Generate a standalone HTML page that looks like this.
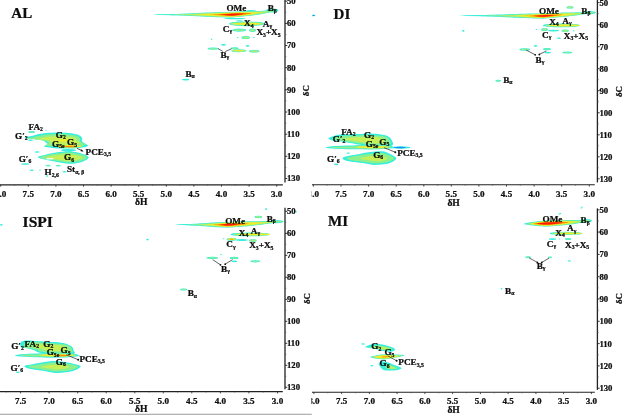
<!DOCTYPE html><html><head><meta charset="utf-8"><title>HSQC</title>
<style>html,body{margin:0;padding:0;background:#fff;}svg{display:block;}text{font-family:"Liberation Serif",serif;font-weight:bold;fill:#0a0a0a;stroke:#0a0a0a;stroke-width:0.22px;}</style></head><body>
<svg width="624" height="415" viewBox="0 0 624 415">
<defs>
<filter id="bl" x="-20%" y="-50%" width="140%" height="200%"><feGaussianBlur stdDeviation="0.4"/></filter>
<filter id="tb" x="-5%" y="-20%" width="110%" height="140%"><feGaussianBlur stdDeviation="0.28"/></filter>
<radialGradient id="g1" cx="0.5" cy="0.5" r="0.5"><stop offset="0" stop-color="#36eedc"/><stop offset="1" stop-color="#36eedc"/></radialGradient>
<radialGradient id="g2" cx="0.5" cy="0.5" r="0.5"><stop offset="0" stop-color="#8cf08c"/><stop offset="0.45" stop-color="#8cf08c"/><stop offset="0.8" stop-color="#36eedc"/><stop offset="1" stop-color="#36eedc"/></radialGradient>
<radialGradient id="g3" cx="0.5" cy="0.5" r="0.5"><stop offset="0" stop-color="#c6f058"/><stop offset="0.35" stop-color="#c6f058"/><stop offset="0.6" stop-color="#8cf08c"/><stop offset="0.85" stop-color="#36eedc"/><stop offset="1" stop-color="#36eedc"/></radialGradient>
<radialGradient id="g4" cx="0.5" cy="0.5" r="0.5"><stop offset="0" stop-color="#f6ec24"/><stop offset="0.3" stop-color="#f6ec24"/><stop offset="0.5" stop-color="#c6f058"/><stop offset="0.7" stop-color="#8cf08c"/><stop offset="0.88" stop-color="#36eedc"/><stop offset="1" stop-color="#36eedc"/></radialGradient>
<radialGradient id="g5" cx="0.5" cy="0.5" r="0.5"><stop offset="0" stop-color="#ff8a00"/><stop offset="0.2" stop-color="#ff8a00"/><stop offset="0.4" stop-color="#f6ec24"/><stop offset="0.6" stop-color="#c6f058"/><stop offset="0.75" stop-color="#8cf08c"/><stop offset="0.9" stop-color="#36eedc"/><stop offset="1" stop-color="#36eedc"/></radialGradient>
<radialGradient id="g6" cx="0.5" cy="0.5" r="0.5"><stop offset="0" stop-color="#ff1e00"/><stop offset="0.28" stop-color="#ff1e00"/><stop offset="0.42" stop-color="#ff8a00"/><stop offset="0.55" stop-color="#f6ec24"/><stop offset="0.68" stop-color="#c6f058"/><stop offset="0.8" stop-color="#8cf08c"/><stop offset="0.92" stop-color="#36eedc"/><stop offset="1" stop-color="#36eedc"/></radialGradient>
<radialGradient id="g7" cx="0.5" cy="0.5" r="0.5"><stop offset="0" stop-color="#1e8cff"/><stop offset="0.45" stop-color="#1e8cff"/><stop offset="0.8" stop-color="#36eedc"/><stop offset="1" stop-color="#36eedc"/></radialGradient>
</defs>
<rect width="624" height="415" fill="#fff"/>
<g filter="url(#bl)"><path d="M154.0,14.60 L156.6,14.56 L159.2,14.50 L161.8,14.43 L164.4,14.35 L167.0,14.27 L169.6,14.18 L172.2,14.09 L174.8,13.99 L177.4,13.89 L180.0,13.78 L182.6,13.67 L185.2,13.56 L187.9,13.44 L190.5,13.33 L193.1,13.21 L195.7,13.09 L198.3,12.97 L200.9,12.85 L203.5,12.73 L206.1,12.61 L208.7,12.50 L211.3,12.39 L213.9,12.28 L216.5,12.19 L219.1,12.10 L221.7,12.02 L224.3,11.95 L226.9,11.88 L229.5,11.83 L232.1,11.78 L234.7,11.64 L237.3,11.51 L239.9,11.39 L242.5,11.28 L245.1,11.18 L247.8,11.10 L250.4,11.03 L253.0,10.98 L255.6,10.93 L258.2,10.90 L260.8,10.89 L263.4,10.71 L266.0,10.53 L268.6,10.36 L271.2,10.21 L273.8,10.08 L276.4,9.98 L279.0,10.30 L279.0,10.30 L276.4,10.79 L273.8,11.44 L271.2,12.06 L268.6,12.66 L266.0,13.24 L263.4,13.81 L260.8,14.35 L258.2,14.71 L255.6,15.05 L253.0,15.39 L250.4,15.71 L247.8,16.02 L245.1,16.31 L242.5,16.59 L239.9,16.86 L237.3,17.12 L234.7,17.37 L232.1,17.61 L229.5,17.57 L226.9,17.50 L224.3,17.43 L221.7,17.35 L219.1,17.27 L216.5,17.17 L213.9,17.07 L211.3,16.96 L208.7,16.84 L206.1,16.72 L203.5,16.60 L200.9,16.47 L198.3,16.35 L195.7,16.22 L193.1,16.09 L190.5,15.97 L187.9,15.84 L185.2,15.72 L182.6,15.60 L180.0,15.49 L177.4,15.37 L174.8,15.27 L172.2,15.16 L169.6,15.06 L167.0,14.96 L164.4,14.87 L161.8,14.79 L159.2,14.71 L156.6,14.65 L154.0,14.60Z" fill="#36eedc"/><ellipse cx="235.0" cy="18.6" rx="11.00" ry="0.70" fill="#36eedc"/><ellipse cx="272.2" cy="10.4" rx="6.25" ry="2.00" fill="#36eedc"/><ellipse cx="174.0" cy="14.6" rx="21.00" ry="0.55" fill="#36eedc"/><ellipse cx="251.0" cy="10.7" rx="5.00" ry="0.80" fill="#36eedc"/><ellipse cx="246.8" cy="23.8" rx="17.75" ry="2.40" fill="#36eedc"/><ellipse cx="239.5" cy="20.9" rx="3.50" ry="0.70" fill="#36eedc"/><ellipse cx="239.4" cy="30.2" rx="7.05" ry="1.60" fill="#36eedc"/><ellipse cx="252.5" cy="30.2" rx="3.50" ry="1.70" fill="#36eedc"/><ellipse cx="245.7" cy="37.6" rx="4.30" ry="1.50" fill="#36eedc"/><ellipse cx="237.6" cy="37.6" rx="0.80" ry="0.60" fill="#36eedc"/><ellipse cx="254.0" cy="37.6" rx="0.80" ry="0.60" fill="#36eedc"/><ellipse cx="211.6" cy="39.2" rx="0.80" ry="0.60" fill="#36eedc"/><ellipse cx="46.0" cy="130.3" rx="0.80" ry="0.50" fill="#36eedc"/><ellipse cx="223.5" cy="44.8" rx="2.50" ry="0.90" fill="#36eedc"/><ellipse cx="247.5" cy="45.8" rx="1.90" ry="0.90" fill="#36eedc"/><ellipse cx="213.0" cy="48.6" rx="5.50" ry="1.20" fill="#36eedc"/><ellipse cx="234.6" cy="48.3" rx="3.95" ry="1.10" fill="#36eedc"/><ellipse cx="238.8" cy="50.7" rx="7.75" ry="1.50" fill="#36eedc"/><ellipse cx="254.2" cy="51.3" rx="5.40" ry="1.20" fill="#36eedc"/><ellipse cx="185.7" cy="79.6" rx="3.70" ry="0.90" fill="#36eedc"/><ellipse cx="31.6" cy="132.1" rx="3.35" ry="1.00" fill="#36eedc"/><ellipse cx="30.5" cy="140.3" rx="2.50" ry="0.70" fill="#36eedc"/><path d="M24.5,137.6 C24.8,137.2 28.2,136.7 30.0,136.3 C31.8,135.9 33.6,135.4 35.4,135.0 C37.1,134.6 38.8,134.2 40.5,133.8 C42.2,133.5 42.6,133.1 45.6,132.9 C48.6,132.7 54.6,132.4 58.5,132.4 C62.4,132.4 65.7,132.6 68.7,132.9 C71.7,133.2 74.5,133.7 76.4,134.2 C78.3,134.7 79.3,135.2 80.3,135.9 C81.3,136.6 82.0,137.7 82.2,138.5 C82.5,139.3 81.5,140.3 81.8,141.0 C82.1,141.7 83.1,142.2 84.1,142.9 C85.1,143.6 88.0,144.7 88.0,145.4 C88.0,146.1 86.5,146.7 84.1,147.2 C81.7,147.7 78.1,148.2 73.8,148.4 C69.5,148.6 62.9,148.6 58.5,148.4 C54.1,148.2 50.0,147.7 47.5,147.3 C45.0,147.0 43.7,146.8 43.7,146.3 C43.7,145.8 47.3,144.9 47.6,144.2 C47.9,143.5 46.3,142.9 45.5,142.3 C44.7,141.7 44.6,141.1 43.0,140.6 C41.4,140.1 38.5,139.8 36.0,139.5 C33.5,139.2 29.9,139.0 28.0,138.7 C26.1,138.4 24.2,138.0 24.5,137.6Z" fill="#36eedc"/><ellipse cx="37.1" cy="152.0" rx="2.50" ry="0.80" fill="#36eedc"/><ellipse cx="68.5" cy="150.2" rx="7.50" ry="1.30" fill="#36eedc"/><path d="M38.0,156.8 C38.9,156.2 42.6,155.4 45.6,154.7 C48.6,154.0 52.0,153.2 55.9,152.6 C59.8,152.0 65.1,151.3 68.7,151.3 C72.3,151.3 74.9,152.0 77.7,152.6 C80.5,153.2 83.6,154.2 85.4,155.1 C87.2,155.9 88.8,156.7 88.6,157.7 C88.4,158.7 86.1,160.0 84.1,160.9 C82.1,161.8 79.0,162.7 76.4,163.2 C73.8,163.7 71.7,163.9 68.7,163.7 C65.7,163.5 61.9,162.8 58.5,162.2 C55.1,161.6 51.2,160.9 48.2,160.3 C45.2,159.7 42.2,159.2 40.5,158.6 C38.8,158.0 37.1,157.5 38.0,156.8Z" fill="#36eedc"/><ellipse cx="25.2" cy="164.0" rx="4.25" ry="0.80" fill="#36eedc"/><ellipse cx="48.1" cy="165.6" rx="2.50" ry="0.90" fill="#36eedc"/><ellipse cx="58.3" cy="165.6" rx="2.50" ry="0.90" fill="#36eedc"/><ellipse cx="31.8" cy="170.2" rx="2.00" ry="0.70" fill="#36eedc"/><ellipse cx="40.0" cy="170.0" rx="1.00" ry="0.50" fill="#36eedc"/><ellipse cx="64.5" cy="171.7" rx="2.00" ry="0.80" fill="#36eedc"/><ellipse cx="47.2" cy="176.0" rx="1.20" ry="0.80" fill="#36eedc"/><path d="M460.5,15.50 L463.3,15.48 L466.1,15.44 L469.0,15.39 L471.8,15.33 L474.6,15.26 L477.4,15.19 L480.3,15.12 L483.1,15.04 L485.9,14.96 L488.7,14.87 L491.6,14.79 L494.4,14.70 L497.2,14.60 L500.0,14.51 L502.8,14.41 L505.7,14.31 L508.5,14.21 L511.3,14.12 L514.1,14.02 L517.0,13.93 L519.8,13.84 L522.6,13.75 L525.4,13.67 L528.2,13.60 L531.1,13.54 L533.9,13.48 L536.7,13.43 L539.5,13.40 L542.4,13.36 L545.2,13.25 L548.0,13.12 L550.8,13.00 L553.7,12.89 L556.5,12.79 L559.3,12.70 L562.1,12.62 L564.9,12.56 L567.8,12.50 L570.6,12.46 L573.4,12.42 L576.2,12.37 L579.1,12.29 L581.9,12.22 L584.7,12.17 L587.5,12.12 L590.4,12.09 L593.2,12.10 L596.0,12.30 L596.0,12.30 L593.2,12.81 L590.4,13.30 L587.5,13.75 L584.7,14.18 L581.9,14.61 L579.1,15.02 L576.2,15.42 L573.4,15.78 L570.6,16.09 L567.8,16.40 L564.9,16.70 L562.1,16.98 L559.3,17.26 L556.5,17.52 L553.7,17.77 L550.8,18.02 L548.0,18.25 L545.2,18.47 L542.4,18.63 L539.5,18.56 L536.7,18.49 L533.9,18.41 L531.1,18.32 L528.2,18.22 L525.4,18.11 L522.6,18.00 L519.8,17.88 L517.0,17.76 L514.1,17.63 L511.3,17.50 L508.5,17.37 L505.7,17.24 L502.8,17.11 L500.0,16.98 L497.2,16.85 L494.4,16.72 L491.6,16.59 L488.7,16.47 L485.9,16.35 L483.1,16.24 L480.3,16.12 L477.4,16.02 L474.6,15.91 L471.8,15.81 L469.0,15.72 L466.1,15.64 L463.3,15.56 L460.5,15.50Z" fill="#36eedc"/><ellipse cx="590.0" cy="12.6" rx="6.00" ry="1.60" fill="#36eedc"/><ellipse cx="482.2" cy="15.6" rx="22.75" ry="0.55" fill="#36eedc"/><ellipse cx="570.0" cy="7.4" rx="3.50" ry="1.20" fill="#36eedc"/><ellipse cx="561.2" cy="25.4" rx="18.25" ry="1.90" fill="#36eedc"/><ellipse cx="544.5" cy="29.7" rx="3.50" ry="1.40" fill="#36eedc"/><ellipse cx="553.5" cy="30.6" rx="5.50" ry="0.90" fill="#36eedc"/><ellipse cx="565.2" cy="30.8" rx="3.75" ry="1.40" fill="#36eedc"/><ellipse cx="573.6" cy="30.8" rx="0.80" ry="0.60" fill="#36eedc"/><ellipse cx="536.4" cy="29.5" rx="0.80" ry="0.50" fill="#36eedc"/><ellipse cx="559.0" cy="38.2" rx="2.00" ry="0.80" fill="#36eedc"/><ellipse cx="463.3" cy="30.8" rx="1.30" ry="0.90" fill="#36eedc"/><ellipse cx="535.5" cy="45.9" rx="1.85" ry="0.80" fill="#36eedc"/><ellipse cx="524.7" cy="49.5" rx="5.30" ry="1.20" fill="#36eedc"/><ellipse cx="547.0" cy="49.1" rx="4.05" ry="1.20" fill="#36eedc"/><ellipse cx="547.8" cy="52.6" rx="3.20" ry="0.90" fill="#36eedc"/><ellipse cx="567.2" cy="52.5" rx="4.95" ry="1.10" fill="#36eedc"/><ellipse cx="498.2" cy="80.7" rx="2.95" ry="1.00" fill="#36eedc"/><path d="M328.4,138.4 C328.4,137.6 331.5,136.7 333.7,136.0 C335.9,135.3 337.2,134.8 341.3,134.5 C345.4,134.2 353.2,134.3 358.0,134.1 C362.8,133.9 365.9,133.3 370.2,133.4 C374.5,133.5 380.8,134.3 384.0,134.9 C387.2,135.5 388.2,136.3 389.5,137.2 C390.8,138.1 391.2,139.3 391.8,140.5 C392.4,141.7 393.6,143.5 393.0,144.5 C392.4,145.5 391.5,146.2 388.0,146.5 C384.5,146.8 377.2,146.6 372.0,146.2 C366.8,145.8 360.1,144.7 356.5,144.2 C352.9,143.7 352.8,143.4 350.5,143.0 C348.2,142.6 345.6,142.1 342.8,141.7 C340.0,141.3 336.1,141.2 333.7,140.7 C331.3,140.1 328.4,139.2 328.4,138.4Z" fill="#36eedc"/><ellipse cx="360.3" cy="147.4" rx="34.50" ry="1.95" fill="#36eedc"/><ellipse cx="372.5" cy="147.0" rx="20.50" ry="2.30" fill="#36eedc"/><ellipse cx="382.2" cy="147.5" rx="5.25" ry="0.80" fill="#ff8a00"/><ellipse cx="400.8" cy="147.5" rx="9.75" ry="1.15" fill="#36eedc"/><ellipse cx="399.8" cy="147.5" rx="6.25" ry="0.75" fill="#1e8cff"/><path d="M342.8,157.7 C343.8,156.9 347.7,156.1 350.5,155.5 C353.3,154.9 356.3,154.5 359.6,153.9 C362.9,153.3 366.6,152.5 370.2,152.1 C373.8,151.7 378.1,151.2 380.9,151.3 C383.7,151.4 385.0,151.7 387.0,152.4 C389.0,153.1 391.4,154.5 393.0,155.5 C394.6,156.5 396.5,157.4 396.3,158.5 C396.1,159.6 393.7,161.3 391.6,162.3 C389.6,163.3 387.1,163.9 384.0,164.3 C380.9,164.7 376.9,165.1 373.3,164.9 C369.7,164.7 366.4,163.7 362.6,163.1 C358.8,162.5 353.5,162.0 350.5,161.5 C347.5,161.0 345.7,160.6 344.4,160.0 C343.1,159.4 341.8,158.4 342.8,157.7Z" fill="#36eedc"/><ellipse cx="348.2" cy="153.1" rx="2.00" ry="0.70" fill="#36eedc"/><ellipse cx="336.1" cy="164.4" rx="2.10" ry="0.80" fill="#36eedc"/><path d="M175.8,224.60 L178.0,224.55 L180.3,224.47 L182.5,224.38 L184.8,224.28 L187.0,224.16 L189.3,224.04 L191.5,223.92 L193.8,223.78 L196.0,223.65 L198.2,223.50 L200.5,223.36 L202.7,223.21 L205.0,223.06 L207.2,222.91 L209.5,222.76 L211.7,222.61 L213.9,222.47 L216.2,222.35 L218.4,222.23 L220.7,222.12 L222.9,222.03 L225.2,221.96 L227.4,221.90 L229.7,221.82 L231.9,221.74 L234.1,221.66 L236.4,221.59 L238.6,221.53 L240.9,221.47 L243.1,221.42 L245.4,221.37 L247.6,221.33 L249.8,221.30 L252.1,221.28 L254.3,221.26 L256.6,221.25 L258.8,221.23 L261.1,221.17 L263.3,221.12 L265.6,221.08 L267.8,221.04 L270.0,221.01 L272.3,220.99 L274.5,220.97 L276.8,220.97 L279.0,220.98 L281.3,221.02 L283.5,221.20 L283.5,221.20 L281.3,221.66 L279.0,222.06 L276.8,222.43 L274.5,222.78 L272.3,223.13 L270.0,223.46 L267.8,223.79 L265.6,224.11 L263.3,224.43 L261.1,224.74 L258.8,225.04 L256.6,225.30 L254.3,225.53 L252.1,225.75 L249.8,225.97 L247.6,226.18 L245.4,226.38 L243.1,226.57 L240.9,226.76 L238.6,226.94 L236.4,227.11 L234.1,227.28 L231.9,227.45 L229.7,227.60 L227.4,227.70 L225.2,227.62 L222.9,227.53 L220.7,227.42 L218.4,227.30 L216.2,227.17 L213.9,227.02 L211.7,226.86 L209.5,226.70 L207.2,226.54 L205.0,226.37 L202.7,226.20 L200.5,226.04 L198.2,225.87 L196.0,225.71 L193.8,225.56 L191.5,225.41 L189.3,225.26 L187.0,225.13 L184.8,225.00 L182.5,224.88 L180.3,224.77 L178.0,224.67 L175.8,224.60Z" fill="#36eedc"/><ellipse cx="276.8" cy="221.6" rx="6.75" ry="1.60" fill="#36eedc"/><ellipse cx="193.4" cy="224.6" rx="18.60" ry="0.55" fill="#36eedc"/><ellipse cx="258.4" cy="217.0" rx="3.80" ry="1.20" fill="#36eedc"/><ellipse cx="266.3" cy="208.8" rx="0.70" ry="0.60" fill="#36eedc"/><ellipse cx="249.9" cy="234.4" rx="19.30" ry="1.90" fill="#36eedc"/><ellipse cx="231.6" cy="239.2" rx="4.90" ry="1.50" fill="#36eedc"/><ellipse cx="241.8" cy="240.0" rx="5.75" ry="1.00" fill="#36eedc"/><ellipse cx="252.8" cy="240.6" rx="3.95" ry="1.40" fill="#36eedc"/><ellipse cx="223.6" cy="238.7" rx="0.80" ry="0.50" fill="#36eedc"/><ellipse cx="221.1" cy="254.6" rx="0.80" ry="0.60" fill="#36eedc"/><ellipse cx="212.3" cy="257.9" rx="5.85" ry="1.20" fill="#36eedc"/><ellipse cx="234.1" cy="257.9" rx="4.45" ry="1.20" fill="#36eedc"/><ellipse cx="234.5" cy="261.3" rx="3.00" ry="0.90" fill="#36eedc"/><ellipse cx="255.3" cy="261.3" rx="4.90" ry="1.10" fill="#36eedc"/><ellipse cx="183.6" cy="289.4" rx="3.60" ry="1.00" fill="#36eedc"/><ellipse cx="147.5" cy="239.6" rx="1.30" ry="0.80" fill="#36eedc"/><ellipse cx="1.3" cy="224.9" rx="1.30" ry="0.80" fill="#36eedc"/><ellipse cx="295.9" cy="211.8" rx="1.10" ry="0.80" fill="#36eedc"/><ellipse cx="266.1" cy="209.2" rx="1.10" ry="0.70" fill="#36eedc"/><path d="M20.2,344.6 C20.2,343.6 20.4,342.3 21.7,341.6 C23.0,340.9 24.2,340.4 27.8,340.4 C31.4,340.4 38.4,341.1 43.0,341.4 C47.6,341.7 51.4,341.7 55.2,342.1 C59.0,342.5 63.1,342.9 65.9,343.7 C68.7,344.5 70.7,345.6 72.0,346.7 C73.3,347.8 73.2,349.4 73.6,350.5 C74.0,351.6 75.8,352.8 74.5,353.5 C73.2,354.2 69.2,354.5 66.0,354.6 C62.8,354.7 58.9,354.1 55.2,353.9 C51.5,353.7 46.8,353.6 44.0,353.4 C41.2,353.2 40.2,353.2 38.5,352.6 C36.8,352.0 35.7,350.6 33.9,349.9 C32.1,349.2 29.9,348.8 27.8,348.4 C25.7,348.0 22.8,348.2 21.5,347.6 C20.2,347.0 20.2,345.6 20.2,344.6Z" fill="#36eedc"/><ellipse cx="47.4" cy="355.4" rx="32.45" ry="2.00" fill="#36eedc"/><ellipse cx="57.0" cy="355.2" rx="21.00" ry="2.40" fill="#36eedc"/><path d="M24.8,365.7 C25.8,365.1 29.4,364.8 32.4,364.2 C35.4,363.6 39.2,362.8 43.0,362.2 C46.8,361.6 50.9,360.8 55.2,360.9 C59.5,361.0 65.2,362.0 69.0,362.7 C72.8,363.4 76.1,364.3 78.0,365.0 C79.9,365.7 81.1,365.9 80.6,366.8 C80.1,367.7 77.5,369.4 75.0,370.3 C72.5,371.2 69.2,371.9 65.9,372.3 C62.6,372.7 59.0,373.1 55.2,372.9 C51.4,372.6 46.8,371.4 43.0,370.8 C39.2,370.2 35.2,369.7 32.4,369.2 C29.6,368.7 27.6,368.3 26.3,367.7 C25.0,367.1 23.8,366.3 24.8,365.7Z" fill="#36eedc"/><ellipse cx="17.8" cy="372.2" rx="2.00" ry="0.80" fill="#36eedc"/><path d="M523.2,223.90 L524.6,223.43 L526.0,223.11 L527.5,222.82 L528.9,222.55 L530.3,222.31 L531.7,222.07 L533.2,221.85 L534.6,221.64 L536.0,221.45 L537.4,221.27 L538.9,221.11 L540.3,220.96 L541.7,220.83 L543.1,220.71 L544.5,220.61 L546.0,220.51 L547.4,220.43 L548.8,220.37 L550.2,220.32 L551.7,220.27 L553.1,220.23 L554.5,220.19 L555.9,220.15 L557.4,220.12 L558.8,220.09 L560.2,220.07 L561.6,220.05 L563.0,220.03 L564.5,220.02 L565.9,220.02 L567.3,220.02 L568.7,220.02 L570.2,220.03 L571.6,220.05 L573.0,220.07 L574.4,220.09 L575.8,220.10 L577.3,220.08 L578.7,220.08 L580.1,220.08 L581.5,220.08 L583.0,220.10 L584.4,220.12 L585.8,220.14 L587.2,220.19 L588.7,220.25 L590.1,220.34 L591.5,220.60 L591.5,220.60 L590.1,221.03 L588.7,221.37 L587.2,221.67 L585.8,221.96 L584.4,222.24 L583.0,222.51 L581.5,222.77 L580.1,223.03 L578.7,223.27 L577.3,223.52 L575.8,223.76 L574.4,223.97 L573.0,224.15 L571.6,224.33 L570.2,224.50 L568.7,224.67 L567.3,224.84 L565.9,224.99 L564.5,225.15 L563.0,225.29 L561.6,225.44 L560.2,225.58 L558.8,225.71 L557.4,225.84 L555.9,225.97 L554.5,226.09 L553.1,226.20 L551.7,226.32 L550.2,226.43 L548.8,226.54 L547.4,226.59 L546.0,226.55 L544.5,226.50 L543.1,226.45 L541.7,226.37 L540.3,226.29 L538.9,226.18 L537.4,226.07 L536.0,225.93 L534.6,225.78 L533.2,225.62 L531.7,225.45 L530.3,225.26 L528.9,225.06 L527.5,224.84 L526.0,224.60 L524.6,224.32 L523.2,223.90Z" fill="#36eedc"/><ellipse cx="586.0" cy="220.8" rx="6.00" ry="1.70" fill="#36eedc"/><ellipse cx="581.3" cy="207.9" rx="0.80" ry="0.60" fill="#36eedc"/><ellipse cx="559.3" cy="213.8" rx="1.00" ry="0.60" fill="#36eedc"/><ellipse cx="565.8" cy="233.4" rx="16.10" ry="1.70" fill="#36eedc"/><ellipse cx="552.5" cy="239.1" rx="3.65" ry="0.90" fill="#36eedc"/><ellipse cx="559.6" cy="239.1" rx="0.80" ry="0.50" fill="#36eedc"/><ellipse cx="568.2" cy="239.0" rx="3.25" ry="1.10" fill="#36eedc"/><ellipse cx="528.1" cy="257.3" rx="2.85" ry="1.00" fill="#36eedc"/><ellipse cx="550.0" cy="257.3" rx="2.20" ry="0.90" fill="#36eedc"/><ellipse cx="569.3" cy="260.9" rx="1.70" ry="0.70" fill="#36eedc"/><ellipse cx="501.5" cy="288.7" rx="0.90" ry="0.70" fill="#36eedc"/><ellipse cx="560.3" cy="213.6" rx="1.00" ry="0.60" fill="#36eedc"/><ellipse cx="582.2" cy="207.0" rx="0.80" ry="0.60" fill="#36eedc"/><ellipse cx="363.1" cy="344.0" rx="1.70" ry="0.70" fill="#36eedc"/><path d="M365.3,346.8 C365.9,346.2 369.1,344.6 371.7,344.2 C374.2,343.8 377.8,343.9 380.6,344.2 C383.4,344.5 386.2,345.3 388.3,345.9 C390.4,346.5 392.4,347.1 393.5,347.8 C394.6,348.5 395.3,349.5 394.9,350.1 C394.5,350.8 392.8,351.6 390.9,351.7 C388.9,351.8 386.0,351.5 383.2,351.0 C380.4,350.5 376.8,349.3 374.2,348.8 C371.6,348.3 369.3,348.1 367.8,347.8 C366.3,347.5 364.7,347.4 365.3,346.8Z" fill="#36eedc"/><path d="M370.4,357.0 C370.6,356.4 374.6,355.7 377.0,355.2 C379.4,354.7 381.5,354.3 384.5,354.2 C387.5,354.1 391.6,354.4 395.0,354.6 C398.4,354.8 404.4,354.8 404.6,355.3 C404.8,355.8 399.4,356.9 396.0,357.6 C392.6,358.3 387.8,359.2 384.5,359.4 C381.2,359.6 378.4,359.0 376.0,358.6 C373.6,358.2 370.2,357.6 370.4,357.0Z" fill="#36eedc"/><path d="M378.7,363.8 C379.0,363.0 380.3,361.5 381.9,361.3 C383.5,361.1 386.4,362.0 388.3,362.6 C390.2,363.2 391.6,363.9 393.5,364.7 C395.4,365.4 398.6,366.5 399.9,367.1 C401.2,367.8 402.0,368.1 401.4,368.6 C400.8,369.1 398.4,370.0 396.0,370.3 C393.6,370.6 389.3,370.8 387.1,370.6 C384.9,370.5 383.8,370.1 382.6,369.4 C381.4,368.7 380.6,367.3 380.0,366.4 C379.4,365.5 378.4,364.6 378.7,363.8Z" fill="#36eedc"/><ellipse cx="371.8" cy="365.8" rx="1.50" ry="0.80" fill="#36eedc"/><path d="M164.0,14.61 L166.3,14.58 L168.6,14.52 L170.9,14.46 L173.2,14.39 L175.6,14.32 L177.9,14.24 L180.2,14.15 L182.5,14.06 L184.8,13.97 L187.1,13.88 L189.4,13.78 L191.8,13.68 L194.1,13.58 L196.4,13.47 L198.7,13.37 L201.0,13.26 L203.3,13.15 L205.6,13.04 L207.9,12.94 L210.2,12.84 L212.6,12.74 L214.9,12.64 L217.2,12.55 L219.5,12.47 L221.8,12.39 L224.1,12.32 L226.4,12.26 L228.8,12.21 L231.1,12.16 L233.4,12.07 L235.7,11.95 L238.0,11.84 L240.3,11.73 L242.6,11.64 L244.9,11.55 L247.2,11.48 L249.6,11.42 L251.9,11.37 L254.2,11.33 L256.5,11.30 L258.8,11.28 L261.1,11.26 L263.4,11.09 L265.8,10.94 L268.1,10.79 L270.4,10.67 L272.7,10.57 L275.0,10.59 L275.0,10.59 L272.7,11.27 L270.4,11.84 L268.1,12.38 L265.8,12.90 L263.4,13.41 L261.1,13.91 L258.8,14.24 L256.5,14.56 L254.2,14.86 L251.9,15.16 L249.6,15.44 L247.2,15.71 L244.9,15.97 L242.6,16.22 L240.3,16.46 L238.0,16.69 L235.7,16.92 L233.4,17.13 L231.1,17.23 L228.8,17.18 L226.4,17.12 L224.1,17.06 L221.8,16.98 L219.5,16.90 L217.2,16.81 L214.9,16.72 L212.6,16.61 L210.2,16.51 L207.9,16.40 L205.6,16.29 L203.3,16.17 L201.0,16.06 L198.7,15.95 L196.4,15.84 L194.1,15.73 L191.8,15.62 L189.4,15.51 L187.1,15.41 L184.8,15.31 L182.5,15.21 L180.2,15.12 L177.9,15.02 L175.6,14.94 L173.2,14.86 L170.9,14.78 L168.6,14.71 L166.3,14.65 L164.0,14.61Z" fill="#8cf08c"/><ellipse cx="272.2" cy="10.4" rx="4.27" ry="1.10" fill="#8cf08c"/><ellipse cx="246.8" cy="23.8" rx="16.59" ry="1.87" fill="#8cf08c"/><ellipse cx="239.4" cy="30.2" rx="5.47" ry="0.88" fill="#8cf08c"/><ellipse cx="252.5" cy="30.2" rx="2.68" ry="1.33" fill="#8cf08c"/><ellipse cx="245.7" cy="37.6" rx="3.57" ry="1.17" fill="#8cf08c"/><ellipse cx="213.0" cy="48.6" rx="4.31" ry="0.66" fill="#8cf08c"/><ellipse cx="234.6" cy="48.3" rx="2.86" ry="0.61" fill="#8cf08c"/><ellipse cx="238.8" cy="50.7" rx="7.02" ry="1.17" fill="#8cf08c"/><ellipse cx="254.2" cy="51.3" rx="4.82" ry="0.94" fill="#8cf08c"/><ellipse cx="31.6" cy="132.1" rx="2.36" ry="0.55" fill="#8cf08c"/><path d="M28.2,138.2 C28.6,137.9 31.6,137.5 33.2,137.2 C34.8,136.8 36.5,136.5 38.1,136.1 C39.6,135.8 41.1,135.4 42.6,135.2 C44.2,134.9 44.5,134.6 47.2,134.4 C49.9,134.3 55.4,134.0 58.9,134.0 C62.3,134.0 65.3,134.2 68.0,134.4 C70.7,134.7 73.2,135.1 75.0,135.5 C76.7,135.9 77.6,136.3 78.5,136.8 C79.3,137.4 80.0,138.2 80.2,138.9 C80.4,139.6 79.5,140.3 79.8,140.9 C80.1,141.5 81.0,141.9 81.9,142.4 C82.8,143.0 85.4,143.9 85.4,144.4 C85.4,145.0 84.0,145.5 81.9,145.9 C79.8,146.3 76.5,146.7 72.6,146.8 C68.8,147.0 62.8,147.0 58.9,146.8 C54.9,146.7 51.2,146.2 49.0,146.0 C46.7,145.7 45.5,145.6 45.5,145.2 C45.5,144.7 48.8,144.0 49.0,143.5 C49.3,142.9 47.8,142.4 47.1,142.0 C46.5,141.5 46.3,141.0 44.9,140.6 C43.5,140.2 40.8,140.0 38.6,139.7 C36.3,139.5 33.1,139.3 31.4,139.1 C29.7,138.8 27.9,138.5 28.2,138.2Z" fill="#8cf08c"/><path d="M40.3,157.0 C41.1,156.4 44.6,155.8 47.3,155.3 C50.1,154.7 53.2,154.1 56.8,153.6 C60.3,153.1 65.2,152.6 68.6,152.6 C71.9,152.6 74.3,153.1 76.8,153.6 C79.4,154.1 82.3,154.9 83.9,155.6 C85.6,156.3 87.1,156.9 86.9,157.7 C86.7,158.5 84.6,159.5 82.7,160.2 C80.9,161.0 78.0,161.7 75.6,162.1 C73.3,162.5 71.3,162.6 68.6,162.5 C65.8,162.3 62.3,161.7 59.2,161.3 C56.0,160.8 52.5,160.2 49.7,159.8 C46.9,159.3 44.2,158.9 42.6,158.4 C41.1,157.9 39.5,157.5 40.3,157.0Z" fill="#8cf08c"/><ellipse cx="48.1" cy="165.6" rx="1.61" ry="0.50" fill="#8cf08c"/><ellipse cx="58.3" cy="165.6" rx="1.61" ry="0.50" fill="#8cf08c"/><path d="M480.0,15.62 L482.3,15.60 L484.7,15.55 L487.0,15.50 L489.3,15.44 L491.7,15.38 L494.0,15.31 L496.3,15.24 L498.7,15.16 L501.0,15.08 L503.3,15.00 L505.7,14.91 L508.0,14.82 L510.3,14.73 L512.7,14.64 L515.0,14.55 L517.3,14.45 L519.7,14.36 L522.0,14.27 L524.3,14.18 L526.7,14.10 L529.0,14.02 L531.3,13.95 L533.7,13.89 L536.0,13.84 L538.3,13.79 L540.7,13.75 L543.0,13.72 L545.3,13.61 L547.7,13.50 L550.0,13.40 L552.3,13.30 L554.7,13.21 L557.0,13.13 L559.3,13.05 L561.7,12.99 L564.0,12.93 L566.3,12.88 L568.7,12.83 L571.0,12.80 L573.3,12.77 L575.7,12.73 L578.0,12.66 L580.3,12.60 L582.7,12.55 L585.0,12.50 L587.3,12.48 L589.7,12.47 L592.0,12.55 L592.0,12.55 L589.7,13.04 L587.3,13.43 L585.0,13.80 L582.7,14.15 L580.3,14.49 L578.0,14.83 L575.7,15.16 L573.3,15.44 L571.0,15.70 L568.7,15.96 L566.3,16.20 L564.0,16.45 L561.7,16.68 L559.3,16.90 L557.0,17.12 L554.7,17.33 L552.3,17.53 L550.0,17.73 L547.7,17.92 L545.3,18.10 L543.0,18.28 L540.7,18.22 L538.3,18.15 L536.0,18.08 L533.7,18.00 L531.3,17.91 L529.0,17.81 L526.7,17.70 L524.3,17.59 L522.0,17.48 L519.7,17.36 L517.3,17.24 L515.0,17.12 L512.7,16.99 L510.3,16.87 L508.0,16.76 L505.7,16.64 L503.3,16.52 L501.0,16.41 L498.7,16.30 L496.3,16.20 L494.0,16.10 L491.7,16.00 L489.3,15.91 L487.0,15.82 L484.7,15.74 L482.3,15.67 L480.0,15.62Z" fill="#8cf08c"/><ellipse cx="590.0" cy="12.6" rx="4.42" ry="0.88" fill="#8cf08c"/><ellipse cx="570.0" cy="7.4" rx="2.92" ry="0.94" fill="#8cf08c"/><ellipse cx="562.5" cy="25.4" rx="17.33" ry="1.48" fill="#8cf08c"/><ellipse cx="544.5" cy="29.7" rx="2.82" ry="1.09" fill="#8cf08c"/><ellipse cx="565.2" cy="30.8" rx="3.07" ry="1.09" fill="#8cf08c"/><ellipse cx="524.7" cy="49.5" rx="4.11" ry="0.66" fill="#8cf08c"/><ellipse cx="547.0" cy="49.1" rx="2.86" ry="0.66" fill="#8cf08c"/><ellipse cx="567.2" cy="52.5" rx="3.86" ry="0.61" fill="#8cf08c"/><ellipse cx="498.2" cy="80.7" rx="1.96" ry="0.55" fill="#8cf08c"/><path d="M332.6,138.8 C332.6,138.1 335.4,137.4 337.3,136.9 C339.3,136.4 340.5,136.0 344.2,135.7 C347.8,135.5 354.9,135.5 359.2,135.4 C363.5,135.3 366.3,134.7 370.2,134.9 C374.1,135.0 379.7,135.5 382.6,136.0 C385.5,136.5 386.4,137.1 387.6,137.8 C388.7,138.5 389.1,139.4 389.6,140.4 C390.1,141.3 391.3,142.7 390.7,143.5 C390.1,144.3 389.3,144.8 386.2,145.1 C383.1,145.3 376.5,145.1 371.8,144.8 C367.1,144.5 361.1,143.7 357.9,143.3 C354.6,142.9 354.5,142.7 352.4,142.3 C350.4,142.0 348.0,141.6 345.5,141.3 C343.0,141.0 339.5,141.0 337.3,140.5 C335.2,140.1 332.6,139.4 332.6,138.8Z" fill="#8cf08c"/><ellipse cx="360.3" cy="147.4" rx="30.11" ry="1.07" fill="#8cf08c"/><ellipse cx="372.5" cy="147.0" rx="18.98" ry="1.79" fill="#8cf08c"/><path d="M347.0,157.9 C347.9,157.3 351.3,156.7 353.8,156.2 C356.3,155.8 358.9,155.4 361.8,155.0 C364.7,154.6 368.0,154.0 371.1,153.7 C374.3,153.4 378.1,153.0 380.6,153.1 C383.0,153.1 384.1,153.4 385.9,153.9 C387.7,154.4 389.8,155.5 391.2,156.2 C392.6,157.0 394.3,157.6 394.1,158.5 C393.9,159.3 391.8,160.6 390.0,161.3 C388.2,162.1 386.0,162.5 383.3,162.8 C380.6,163.2 377.0,163.4 373.9,163.3 C370.7,163.1 367.8,162.4 364.4,161.9 C361.1,161.5 356.5,161.1 353.8,160.7 C351.1,160.3 349.6,160.1 348.4,159.6 C347.3,159.1 346.1,158.4 347.0,157.9Z" fill="#8cf08c"/><path d="M186.0,224.64 L188.0,224.59 L189.9,224.52 L191.9,224.43 L193.8,224.33 L195.8,224.22 L197.8,224.10 L199.7,223.98 L201.7,223.85 L203.6,223.72 L205.6,223.58 L207.5,223.45 L209.5,223.30 L211.5,223.16 L213.4,223.02 L215.4,222.89 L217.3,222.76 L219.3,222.65 L221.2,222.54 L223.2,222.45 L225.2,222.38 L227.1,222.32 L229.1,222.25 L231.0,222.18 L233.0,222.11 L235.0,222.04 L236.9,221.97 L238.9,221.92 L240.8,221.86 L242.8,221.81 L244.8,221.77 L246.7,221.73 L248.7,221.70 L250.6,221.67 L252.6,221.65 L254.5,221.63 L256.5,221.62 L258.5,221.60 L260.4,221.55 L262.4,221.50 L264.3,221.46 L266.3,221.42 L268.2,221.38 L270.2,221.35 L272.2,221.33 L274.1,221.31 L276.1,221.31 L278.0,221.34 L280.0,221.44 L280.0,221.44 L278.0,221.86 L276.1,222.19 L274.1,222.51 L272.2,222.81 L270.2,223.10 L268.2,223.38 L266.3,223.66 L264.3,223.93 L262.4,224.20 L260.4,224.46 L258.5,224.72 L256.5,224.94 L254.5,225.13 L252.6,225.33 L250.6,225.51 L248.7,225.70 L246.7,225.87 L244.8,226.04 L242.8,226.21 L240.8,226.37 L238.9,226.52 L236.9,226.67 L235.0,226.82 L233.0,226.96 L231.0,227.10 L229.1,227.23 L227.1,227.28 L225.2,227.20 L223.2,227.11 L221.2,227.01 L219.3,226.89 L217.3,226.76 L215.4,226.61 L213.4,226.47 L211.5,226.31 L209.5,226.16 L207.5,226.00 L205.6,225.85 L203.6,225.70 L201.7,225.55 L199.7,225.41 L197.8,225.27 L195.8,225.14 L193.8,225.02 L191.9,224.90 L189.9,224.80 L188.0,224.71 L186.0,224.64Z" fill="#8cf08c"/><ellipse cx="276.8" cy="221.6" rx="5.17" ry="0.88" fill="#8cf08c"/><ellipse cx="258.4" cy="217.0" rx="3.22" ry="0.94" fill="#8cf08c"/><ellipse cx="251.4" cy="234.4" rx="18.38" ry="1.48" fill="#8cf08c"/><ellipse cx="231.6" cy="239.2" rx="4.17" ry="1.17" fill="#8cf08c"/><ellipse cx="252.8" cy="240.6" rx="3.27" ry="1.09" fill="#8cf08c"/><ellipse cx="212.3" cy="257.9" rx="4.66" ry="0.66" fill="#8cf08c"/><ellipse cx="234.1" cy="257.9" rx="3.26" ry="0.66" fill="#8cf08c"/><ellipse cx="255.3" cy="261.3" rx="3.81" ry="0.61" fill="#8cf08c"/><ellipse cx="183.6" cy="289.4" rx="2.61" ry="0.55" fill="#8cf08c"/><path d="M23.8,345.3 C23.8,344.6 24.0,343.6 25.1,343.0 C26.3,342.5 27.4,342.1 30.6,342.1 C33.8,342.0 40.2,342.6 44.3,342.9 C48.4,343.1 51.8,343.1 55.3,343.4 C58.7,343.7 62.4,344.0 64.9,344.6 C67.4,345.2 69.2,346.1 70.4,347.0 C71.6,347.9 71.5,349.1 71.8,349.9 C72.2,350.8 73.8,351.8 72.7,352.3 C71.5,352.8 67.9,353.1 65.0,353.1 C62.1,353.2 58.6,352.8 55.3,352.6 C52.0,352.4 47.7,352.4 45.2,352.2 C42.7,352.0 41.8,352.0 40.2,351.6 C38.7,351.1 37.7,350.0 36.1,349.5 C34.5,348.9 32.5,348.6 30.6,348.3 C28.8,348.0 26.1,348.2 24.9,347.7 C23.8,347.2 23.8,346.1 23.8,345.3Z" fill="#8cf08c"/><ellipse cx="47.4" cy="355.4" rx="27.95" ry="1.10" fill="#8cf08c"/><ellipse cx="57.0" cy="355.2" rx="19.42" ry="1.87" fill="#8cf08c"/><path d="M28.8,366.0 C29.7,365.6 32.8,365.3 35.5,364.9 C38.1,364.5 41.5,363.8 44.8,363.4 C48.1,363.0 51.7,362.4 55.5,362.4 C59.3,362.5 64.3,363.3 67.7,363.8 C71.0,364.3 73.9,365.0 75.6,365.5 C77.3,366.0 78.3,366.2 77.9,366.9 C77.4,367.5 75.1,368.8 73.0,369.5 C70.8,370.2 67.9,370.7 65.0,371.0 C62.0,371.3 58.9,371.6 55.5,371.4 C52.2,371.2 48.1,370.3 44.8,369.9 C41.5,369.4 37.9,369.0 35.5,368.6 C33.0,368.3 31.2,368.0 30.1,367.5 C29.0,367.1 27.9,366.5 28.8,366.0Z" fill="#8cf08c"/><path d="M526.5,223.84 L527.8,223.42 L529.1,223.13 L530.3,222.87 L531.6,222.63 L532.9,222.40 L534.2,222.19 L535.5,221.99 L536.8,221.81 L538.0,221.63 L539.3,221.47 L540.6,221.33 L541.9,221.20 L543.2,221.09 L544.4,220.99 L545.7,220.90 L547.0,220.82 L548.3,220.76 L549.6,220.71 L550.8,220.66 L552.1,220.62 L553.4,220.58 L554.7,220.55 L556.0,220.51 L557.2,220.48 L558.5,220.46 L559.8,220.44 L561.1,220.42 L562.4,220.41 L563.7,220.40 L564.9,220.39 L566.2,220.39 L567.5,220.39 L568.8,220.40 L570.1,220.41 L571.3,220.43 L572.6,220.44 L573.9,220.47 L575.2,220.49 L576.5,220.48 L577.8,220.48 L579.0,220.48 L580.3,220.49 L581.6,220.50 L582.9,220.52 L584.2,220.55 L585.4,220.60 L586.7,220.67 L588.0,220.86 L588.0,220.86 L586.7,221.27 L585.4,221.57 L584.2,221.85 L582.9,222.10 L581.6,222.35 L580.3,222.58 L579.0,222.82 L577.8,223.04 L576.5,223.26 L575.2,223.48 L573.9,223.65 L572.6,223.82 L571.3,223.98 L570.1,224.14 L568.8,224.29 L567.5,224.44 L566.2,224.59 L564.9,224.73 L563.7,224.87 L562.4,225.00 L561.1,225.13 L559.8,225.25 L558.5,225.37 L557.2,225.49 L556.0,225.60 L554.7,225.71 L553.4,225.82 L552.1,225.92 L550.8,226.02 L549.6,226.12 L548.3,226.21 L547.0,226.21 L545.7,226.18 L544.4,226.13 L543.2,226.07 L541.9,225.99 L540.6,225.91 L539.3,225.80 L538.0,225.69 L536.8,225.55 L535.5,225.41 L534.2,225.25 L532.9,225.08 L531.6,224.90 L530.3,224.70 L529.1,224.48 L527.8,224.23 L526.5,223.84Z" fill="#8cf08c"/><ellipse cx="586.0" cy="220.8" rx="4.32" ry="0.94" fill="#8cf08c"/><ellipse cx="567.0" cy="233.4" rx="15.28" ry="1.33" fill="#8cf08c"/><ellipse cx="568.2" cy="239.0" rx="2.16" ry="0.61" fill="#8cf08c"/><ellipse cx="528.1" cy="257.3" rx="1.86" ry="0.55" fill="#8cf08c"/><ellipse cx="550.0" cy="257.3" rx="1.31" ry="0.50" fill="#8cf08c"/><path d="M369.5,347.4 C370.0,347.0 372.4,346.0 374.3,345.8 C376.2,345.5 378.9,345.6 381.0,345.8 C383.0,345.9 385.1,346.4 386.7,346.8 C388.3,347.2 389.8,347.6 390.6,348.0 C391.4,348.4 392.0,349.0 391.7,349.4 C391.3,349.8 390.1,350.3 388.7,350.4 C387.2,350.5 385.0,350.3 382.9,350.0 C380.8,349.7 378.1,348.9 376.1,348.6 C374.2,348.3 372.5,348.2 371.4,348.0 C370.2,347.8 369.0,347.7 369.5,347.4Z" fill="#8cf08c"/><path d="M371.9,357.0 C372.0,356.5 375.7,355.9 377.8,355.5 C379.9,355.1 381.9,354.8 384.6,354.7 C387.2,354.6 391.0,354.9 394.0,355.0 C397.0,355.2 402.5,355.2 402.6,355.6 C402.8,356.0 397.9,356.9 394.9,357.5 C391.9,358.0 387.6,358.8 384.6,358.9 C381.6,359.1 379.0,358.6 376.9,358.3 C374.8,358.0 371.7,357.4 371.9,357.0Z" fill="#8cf08c"/><path d="M385.1,365.9 C385.3,365.5 386.0,364.8 386.9,364.6 C387.8,364.5 389.4,365.0 390.4,365.3 C391.5,365.6 392.2,366.0 393.3,366.4 C394.3,366.7 396.1,367.2 396.8,367.6 C397.5,367.9 398.0,368.0 397.6,368.3 C397.3,368.6 396.0,369.0 394.6,369.1 C393.3,369.3 391.0,369.4 389.8,369.3 C388.5,369.2 387.9,369.1 387.3,368.7 C386.6,368.3 386.2,367.7 385.9,367.2 C385.5,366.7 385.0,366.3 385.1,365.9Z" fill="#8cf08c"/><path d="M180.0,14.63 L181.8,14.60 L183.6,14.56 L185.4,14.50 L187.2,14.44 L189.0,14.37 L190.8,14.30 L192.5,14.23 L194.3,14.15 L196.1,14.07 L197.9,13.99 L199.7,13.90 L201.5,13.82 L203.3,13.73 L205.1,13.63 L206.9,13.54 L208.7,13.45 L210.5,13.36 L212.2,13.26 L214.0,13.17 L215.8,13.08 L217.6,13.00 L219.4,12.91 L221.2,12.84 L223.0,12.77 L224.8,12.70 L226.6,12.64 L228.4,12.59 L230.2,12.55 L232.0,12.51 L233.8,12.42 L235.5,12.33 L237.3,12.25 L239.1,12.17 L240.9,12.11 L242.7,12.05 L244.5,12.00 L246.3,11.96 L248.1,11.93 L249.9,11.91 L251.7,11.90 L253.5,11.89 L255.2,11.90 L257.0,11.91 L258.8,11.93 L260.6,11.96 L262.4,11.90 L264.2,11.85 L266.0,11.88 L266.0,11.88 L264.2,12.43 L262.4,12.89 L260.6,13.30 L258.8,13.59 L257.0,13.87 L255.2,14.14 L253.5,14.40 L251.7,14.65 L249.9,14.90 L248.1,15.14 L246.3,15.37 L244.5,15.59 L242.7,15.80 L240.9,16.00 L239.1,16.19 L237.3,16.38 L235.5,16.56 L233.8,16.73 L232.0,16.89 L230.2,16.84 L228.4,16.80 L226.6,16.74 L224.8,16.68 L223.0,16.61 L221.2,16.54 L219.4,16.45 L217.6,16.37 L215.8,16.28 L214.0,16.18 L212.2,16.09 L210.5,15.99 L208.7,15.89 L206.9,15.79 L205.1,15.70 L203.3,15.60 L201.5,15.51 L199.7,15.41 L197.9,15.32 L196.1,15.24 L194.3,15.15 L192.5,15.07 L190.8,14.99 L189.0,14.92 L187.2,14.85 L185.4,14.78 L183.6,14.72 L181.8,14.67 L180.0,14.63Z" fill="#c6f058"/><ellipse cx="246.8" cy="23.8" rx="15.27" ry="1.27" fill="#c6f058"/><ellipse cx="252.5" cy="30.2" rx="0.81" ry="0.48" fill="#c6f058"/><ellipse cx="245.7" cy="37.6" rx="1.92" ry="0.42" fill="#c6f058"/><ellipse cx="238.8" cy="50.7" rx="6.20" ry="0.80" fill="#c6f058"/><ellipse cx="254.2" cy="51.3" rx="3.50" ry="0.34" fill="#c6f058"/><path d="M35.0,139.0 C35.2,138.8 37.7,138.6 39.0,138.4 C40.3,138.1 41.6,137.9 42.8,137.7 C44.1,137.5 45.3,137.2 46.5,137.1 C47.7,136.9 48.0,136.7 50.2,136.6 C52.4,136.5 56.7,136.3 59.5,136.3 C62.3,136.3 64.7,136.4 66.8,136.6 C69.0,136.8 71.0,137.0 72.4,137.3 C73.8,137.5 74.5,137.8 75.2,138.2 C75.9,138.5 76.4,139.1 76.5,139.5 C76.7,140.0 76.0,140.4 76.3,140.8 C76.5,141.2 77.2,141.4 77.9,141.8 C78.7,142.2 80.7,142.7 80.7,143.1 C80.7,143.5 79.6,143.8 77.9,144.0 C76.2,144.3 73.6,144.6 70.5,144.7 C67.4,144.8 62.6,144.8 59.5,144.7 C56.3,144.6 53.3,144.3 51.6,144.1 C49.8,143.9 48.8,143.8 48.8,143.6 C48.8,143.3 51.4,142.8 51.6,142.5 C51.8,142.1 50.7,141.8 50.1,141.5 C49.6,141.2 49.5,140.8 48.3,140.6 C47.2,140.4 45.1,140.2 43.3,140.0 C41.5,139.9 38.9,139.8 37.5,139.6 C36.1,139.4 34.8,139.2 35.0,139.0Z" fill="#c6f058"/><path d="M46.7,157.2 C47.3,156.8 49.9,156.5 52.0,156.1 C54.1,155.7 56.5,155.3 59.2,155.0 C61.9,154.7 65.6,154.3 68.2,154.3 C70.7,154.3 72.5,154.7 74.5,155.0 C76.4,155.3 78.6,155.9 79.9,156.3 C81.2,156.7 82.3,157.1 82.1,157.7 C82.0,158.2 80.4,158.8 79.0,159.3 C77.5,159.8 75.4,160.3 73.6,160.5 C71.8,160.8 70.3,160.9 68.2,160.8 C66.1,160.7 63.4,160.3 61.0,160.0 C58.7,159.7 55.9,159.3 53.8,159.0 C51.7,158.7 49.6,158.4 48.5,158.1 C47.3,157.8 46.1,157.5 46.7,157.2Z" fill="#c6f058"/><path d="M500.0,15.74 L501.7,15.72 L503.4,15.67 L505.1,15.62 L506.8,15.56 L508.5,15.50 L510.2,15.43 L512.0,15.36 L513.7,15.29 L515.4,15.21 L517.1,15.12 L518.8,15.04 L520.5,14.95 L522.2,14.87 L523.9,14.78 L525.6,14.69 L527.3,14.60 L529.0,14.52 L530.8,14.43 L532.5,14.36 L534.2,14.29 L535.9,14.22 L537.6,14.17 L539.3,14.12 L541.0,14.08 L542.7,14.05 L544.4,13.97 L546.1,13.89 L547.8,13.82 L549.5,13.75 L551.2,13.69 L553.0,13.63 L554.7,13.57 L556.4,13.52 L558.1,13.48 L559.8,13.44 L561.5,13.41 L563.2,13.38 L564.9,13.36 L566.6,13.35 L568.3,13.34 L570.0,13.33 L571.8,13.33 L573.5,13.33 L575.2,13.34 L576.9,13.32 L578.6,13.31 L580.3,13.32 L582.0,13.41 L582.0,13.41 L580.3,13.78 L578.6,14.08 L576.9,14.36 L575.2,14.63 L573.5,14.86 L571.8,15.08 L570.0,15.29 L568.3,15.50 L566.6,15.70 L564.9,15.90 L563.2,16.09 L561.5,16.28 L559.8,16.46 L558.1,16.64 L556.4,16.81 L554.7,16.97 L553.0,17.13 L551.2,17.28 L549.5,17.43 L547.8,17.58 L546.1,17.71 L544.4,17.85 L542.7,17.95 L541.0,17.90 L539.3,17.84 L537.6,17.77 L535.9,17.69 L534.2,17.61 L532.5,17.52 L530.8,17.42 L529.0,17.31 L527.3,17.21 L525.6,17.10 L523.9,16.99 L522.2,16.88 L520.5,16.77 L518.8,16.67 L517.1,16.56 L515.4,16.46 L513.7,16.36 L512.0,16.27 L510.2,16.17 L508.5,16.08 L506.8,16.00 L505.1,15.92 L503.4,15.85 L501.7,15.79 L500.0,15.74Z" fill="#c6f058"/><ellipse cx="570.0" cy="7.4" rx="1.60" ry="0.34" fill="#c6f058"/><ellipse cx="563.9" cy="25.4" rx="16.29" ry="1.01" fill="#c6f058"/><ellipse cx="544.5" cy="29.7" rx="1.28" ry="0.39" fill="#c6f058"/><ellipse cx="565.2" cy="30.8" rx="1.53" ry="0.39" fill="#c6f058"/><path d="M344.2,139.2 C344.2,138.9 346.2,138.4 347.5,138.1 C348.8,137.8 349.7,137.5 352.2,137.4 C354.7,137.2 359.6,137.3 362.6,137.2 C365.5,137.1 367.4,136.8 370.1,136.8 C372.8,136.9 376.7,137.2 378.7,137.6 C380.7,137.9 381.3,138.2 382.1,138.7 C382.9,139.1 383.2,139.7 383.5,140.2 C383.9,140.8 384.7,141.7 384.3,142.2 C383.9,142.6 383.3,143.0 381.2,143.1 C379.0,143.3 374.5,143.2 371.2,143.0 C368.0,142.8 363.9,142.3 361.6,142.0 C359.4,141.8 359.3,141.6 357.9,141.4 C356.5,141.2 354.9,141.0 353.1,140.8 C351.4,140.6 349.0,140.6 347.5,140.3 C346.0,140.1 344.2,139.6 344.2,139.2Z" fill="#c6f058"/><ellipse cx="372.5" cy="147.0" rx="17.26" ry="1.22" fill="#c6f058"/><path d="M360.4,158.1 C360.9,157.8 362.9,157.4 364.2,157.2 C365.6,156.9 367.2,156.7 368.8,156.5 C370.4,156.3 372.3,155.9 374.1,155.8 C375.9,155.6 378.1,155.4 379.4,155.4 C380.8,155.4 381.5,155.6 382.5,155.9 C383.5,156.2 384.7,156.8 385.5,157.2 C386.3,157.6 387.3,158.0 387.1,158.4 C387.0,158.9 385.8,159.6 384.8,160.0 C383.8,160.4 382.5,160.7 381.0,160.9 C379.5,161.1 377.4,161.2 375.6,161.1 C373.9,161.0 372.2,160.6 370.3,160.4 C368.4,160.1 365.8,159.9 364.2,159.7 C362.7,159.5 361.8,159.3 361.2,159.1 C360.6,158.8 359.9,158.4 360.4,158.1Z" fill="#c6f058"/><path d="M197.0,224.68 L198.6,224.64 L200.1,224.56 L201.7,224.48 L203.2,224.38 L204.8,224.28 L206.4,224.17 L207.9,224.05 L209.5,223.93 L211.1,223.80 L212.6,223.67 L214.2,223.54 L215.8,223.41 L217.3,223.28 L218.9,223.16 L220.4,223.04 L222.0,222.94 L223.6,222.84 L225.1,222.77 L226.7,222.70 L228.2,222.65 L229.8,222.59 L231.4,222.53 L232.9,222.47 L234.5,222.42 L236.1,222.37 L237.6,222.33 L239.2,222.29 L240.8,222.25 L242.3,222.22 L243.9,222.19 L245.4,222.16 L247.0,222.14 L248.6,222.12 L250.1,222.11 L251.7,222.10 L253.2,222.09 L254.8,222.09 L256.4,222.09 L257.9,222.10 L259.5,222.07 L261.1,222.04 L262.6,222.01 L264.2,221.99 L265.8,221.98 L267.3,221.97 L268.9,221.97 L270.4,221.99 L272.0,222.08 L272.0,222.08 L270.4,222.42 L268.9,222.69 L267.3,222.94 L265.8,223.18 L264.2,223.42 L262.6,223.65 L261.1,223.87 L259.5,224.09 L257.9,224.31 L256.4,224.48 L254.8,224.65 L253.2,224.81 L251.7,224.97 L250.1,225.13 L248.6,225.28 L247.0,225.43 L245.4,225.58 L243.9,225.72 L242.3,225.86 L240.8,225.99 L239.2,226.12 L237.6,226.24 L236.1,226.37 L234.5,226.48 L232.9,226.60 L231.4,226.71 L229.8,226.82 L228.2,226.92 L226.7,226.89 L225.1,226.81 L223.6,226.72 L222.0,226.62 L220.4,226.50 L218.9,226.37 L217.3,226.24 L215.8,226.10 L214.2,225.95 L212.6,225.81 L211.1,225.67 L209.5,225.53 L207.9,225.40 L206.4,225.27 L204.8,225.15 L203.2,225.03 L201.7,224.92 L200.1,224.83 L198.6,224.74 L197.0,224.68Z" fill="#c6f058"/><ellipse cx="258.4" cy="217.0" rx="1.90" ry="0.34" fill="#c6f058"/><ellipse cx="252.9" cy="234.4" rx="17.34" ry="1.01" fill="#c6f058"/><ellipse cx="231.6" cy="239.2" rx="3.62" ry="0.92" fill="#c6f058"/><ellipse cx="252.8" cy="240.6" rx="1.73" ry="0.39" fill="#c6f058"/><path d="M34.5,346.3 C34.5,345.8 34.7,345.2 35.4,344.8 C36.2,344.4 36.9,344.2 39.1,344.2 C41.2,344.2 45.5,344.6 48.2,344.7 C50.9,344.8 53.2,344.9 55.5,345.1 C57.8,345.2 60.3,345.5 61.9,345.9 C63.6,346.2 64.8,346.8 65.6,347.4 C66.4,347.9 66.3,348.7 66.6,349.2 C66.8,349.8 67.9,350.4 67.1,350.8 C66.3,351.1 63.9,351.3 62.0,351.3 C60.1,351.3 57.7,351.1 55.5,350.9 C53.3,350.8 50.5,350.8 48.8,350.7 C47.1,350.6 46.5,350.6 45.5,350.3 C44.5,350.0 43.8,349.3 42.7,348.9 C41.7,348.6 40.3,348.4 39.1,348.2 C37.8,348.0 36.1,348.1 35.3,347.8 C34.5,347.5 34.5,346.8 34.5,346.3Z" fill="#c6f058"/><ellipse cx="57.0" cy="355.2" rx="17.62" ry="1.27" fill="#c6f058"/><path d="M41.4,366.5 C41.9,366.2 43.7,366.1 45.2,365.9 C46.7,365.6 48.6,365.3 50.5,365.1 C52.4,364.9 54.4,364.5 56.6,364.6 C58.8,364.6 61.6,365.0 63.5,365.3 C65.4,365.6 67.0,365.9 68.0,366.2 C69.0,366.5 69.5,366.6 69.3,366.9 C69.0,367.3 67.7,368.0 66.5,368.3 C65.3,368.7 63.6,368.9 62.0,369.1 C60.3,369.3 58.5,369.5 56.6,369.4 C54.7,369.3 52.4,368.8 50.5,368.5 C48.6,368.3 46.6,368.1 45.2,367.9 C43.8,367.7 42.8,367.5 42.1,367.3 C41.5,367.0 40.9,366.7 41.4,366.5Z" fill="#c6f058"/><path d="M529.0,223.80 L530.1,223.45 L531.2,223.20 L532.2,222.98 L533.3,222.78 L534.4,222.59 L535.5,222.42 L536.6,222.25 L537.7,222.09 L538.8,221.94 L539.8,221.80 L540.9,221.68 L542.0,221.57 L543.1,221.46 L544.2,221.37 L545.2,221.29 L546.3,221.22 L547.4,221.16 L548.5,221.11 L549.6,221.07 L550.7,221.04 L551.8,221.01 L552.8,220.97 L553.9,220.95 L555.0,220.92 L556.1,220.90 L557.2,220.88 L558.2,220.87 L559.3,220.86 L560.4,220.85 L561.5,220.84 L562.6,220.84 L563.7,220.85 L564.8,220.86 L565.8,220.87 L566.9,220.88 L568.0,220.90 L569.1,220.93 L570.2,220.95 L571.2,220.98 L572.3,221.02 L573.4,221.06 L574.5,221.10 L575.6,221.13 L576.7,221.16 L577.8,221.19 L578.8,221.24 L579.9,221.31 L581.0,221.47 L581.0,221.47 L579.9,221.83 L578.8,222.09 L577.8,222.33 L576.7,222.55 L575.6,222.76 L574.5,222.95 L573.4,223.12 L572.3,223.28 L571.2,223.43 L570.2,223.58 L569.1,223.73 L568.0,223.88 L566.9,224.01 L565.8,224.15 L564.8,224.28 L563.7,224.41 L562.6,224.54 L561.5,224.66 L560.4,224.77 L559.3,224.89 L558.2,224.99 L557.2,225.10 L556.1,225.20 L555.0,225.30 L553.9,225.40 L552.8,225.49 L551.8,225.58 L550.7,225.67 L549.6,225.75 L548.5,225.83 L547.4,225.86 L546.3,225.83 L545.2,225.79 L544.2,225.75 L543.1,225.69 L542.0,225.63 L540.9,225.55 L539.8,225.46 L538.8,225.35 L537.7,225.24 L536.6,225.12 L535.5,224.98 L534.4,224.84 L533.3,224.69 L532.2,224.52 L531.2,224.34 L530.1,224.12 L529.0,223.80Z" fill="#c6f058"/><ellipse cx="568.2" cy="233.4" rx="14.34" ry="0.90" fill="#c6f058"/><path d="M374.5,347.9 C374.8,347.7 376.2,347.2 377.4,347.1 C378.5,346.9 380.1,347.0 381.4,347.1 C382.6,347.2 383.9,347.4 384.8,347.6 C385.8,347.8 386.7,347.9 387.2,348.2 C387.7,348.4 388.0,348.6 387.8,348.8 C387.6,349.0 386.9,349.3 386.0,349.3 C385.1,349.4 383.8,349.3 382.5,349.1 C381.3,349.0 379.6,348.6 378.5,348.4 C377.3,348.3 376.3,348.2 375.6,348.2 C374.9,348.1 374.2,348.0 374.5,347.9Z" fill="#c6f058"/><path d="M373.3,357.0 C373.5,356.6 376.7,356.1 378.6,355.8 C380.5,355.5 382.2,355.2 384.6,355.1 C387.0,355.1 390.3,355.3 393.0,355.4 C395.7,355.5 400.5,355.5 400.7,355.8 C400.8,356.2 396.5,356.9 393.8,357.4 C391.1,357.8 387.3,358.4 384.6,358.5 C381.9,358.7 379.7,358.3 377.8,358.0 C375.9,357.8 373.2,357.3 373.3,357.0Z" fill="#c6f058"/><path d="M388.7,366.9 C388.8,366.7 389.2,366.4 389.7,366.3 C390.2,366.3 391.0,366.5 391.6,366.6 C392.2,366.8 392.6,367.0 393.1,367.2 C393.7,367.4 394.7,367.6 395.1,367.8 C395.5,367.9 395.7,368.0 395.5,368.1 C395.3,368.3 394.6,368.5 393.9,368.6 C393.2,368.7 391.9,368.7 391.2,368.6 C390.6,368.6 390.2,368.5 389.9,368.4 C389.5,368.2 389.3,367.8 389.1,367.6 C388.9,367.4 388.6,367.2 388.7,366.9Z" fill="#c6f058"/><path d="M194.0,14.65 L195.4,14.62 L196.7,14.58 L198.1,14.54 L199.4,14.48 L200.8,14.42 L202.1,14.36 L203.5,14.30 L204.8,14.23 L206.2,14.16 L207.5,14.09 L208.9,14.01 L210.2,13.94 L211.6,13.86 L213.0,13.78 L214.3,13.70 L215.7,13.62 L217.0,13.54 L218.4,13.46 L219.7,13.38 L221.1,13.30 L222.4,13.23 L223.8,13.16 L225.1,13.10 L226.5,13.04 L227.9,12.99 L229.2,12.95 L230.6,12.91 L231.9,12.88 L233.3,12.81 L234.6,12.74 L236.0,12.68 L237.3,12.63 L238.7,12.58 L240.0,12.54 L241.4,12.50 L242.8,12.47 L244.1,12.45 L245.5,12.43 L246.8,12.42 L248.2,12.42 L249.5,12.42 L250.9,12.43 L252.2,12.45 L253.6,12.47 L254.9,12.50 L256.3,12.54 L257.6,12.61 L259.0,12.74 L259.0,12.74 L257.6,13.08 L256.3,13.34 L254.9,13.58 L253.6,13.80 L252.2,14.02 L250.9,14.23 L249.5,14.44 L248.2,14.64 L246.8,14.83 L245.5,15.02 L244.1,15.20 L242.8,15.37 L241.4,15.54 L240.0,15.70 L238.7,15.85 L237.3,16.00 L236.0,16.14 L234.6,16.28 L233.3,16.41 L231.9,16.52 L230.6,16.48 L229.2,16.44 L227.9,16.40 L226.5,16.34 L225.1,16.28 L223.8,16.22 L222.4,16.14 L221.1,16.07 L219.7,15.99 L218.4,15.91 L217.0,15.82 L215.7,15.74 L214.3,15.66 L213.0,15.57 L211.6,15.49 L210.2,15.41 L208.9,15.33 L207.5,15.25 L206.2,15.17 L204.8,15.10 L203.5,15.03 L202.1,14.96 L200.8,14.90 L199.4,14.83 L198.1,14.78 L196.7,14.73 L195.4,14.68 L194.0,14.65Z" fill="#f6ec24"/><ellipse cx="246.8" cy="23.8" rx="13.95" ry="0.67" fill="#f6ec24"/><ellipse cx="238.8" cy="50.7" rx="5.37" ry="0.42" fill="#f6ec24"/><ellipse cx="69.0" cy="146.3" rx="13.00" ry="1.20" fill="#f6ec24"/><ellipse cx="63.5" cy="140.4" rx="6.50" ry="1.00" fill="#f6ec24"/><path d="M514.0,15.83 L515.2,15.80 L516.4,15.76 L517.6,15.71 L518.8,15.66 L520.0,15.60 L521.2,15.54 L522.5,15.47 L523.7,15.40 L524.9,15.33 L526.1,15.26 L527.3,15.18 L528.5,15.10 L529.7,15.02 L530.9,14.94 L532.1,14.87 L533.3,14.79 L534.5,14.71 L535.8,14.64 L537.0,14.58 L538.2,14.52 L539.4,14.47 L540.6,14.42 L541.8,14.39 L543.0,14.36 L544.2,14.30 L545.4,14.25 L546.6,14.20 L547.8,14.16 L549.0,14.11 L550.2,14.08 L551.5,14.04 L552.7,14.01 L553.9,13.98 L555.1,13.96 L556.3,13.95 L557.5,13.93 L558.7,13.92 L559.9,13.92 L561.1,13.92 L562.3,13.92 L563.5,13.92 L564.8,13.93 L566.0,13.95 L567.2,13.97 L568.4,13.99 L569.6,14.03 L570.8,14.08 L572.0,14.19 L572.0,14.19 L570.8,14.45 L569.6,14.65 L568.4,14.83 L567.2,15.01 L566.0,15.18 L564.8,15.35 L563.5,15.51 L562.3,15.66 L561.1,15.82 L559.9,15.97 L558.7,16.11 L557.5,16.26 L556.3,16.39 L555.1,16.53 L553.9,16.66 L552.7,16.78 L551.5,16.90 L550.2,17.02 L549.0,17.13 L547.8,17.24 L546.6,17.34 L545.4,17.45 L544.2,17.54 L543.0,17.64 L541.8,17.60 L540.6,17.55 L539.4,17.49 L538.2,17.42 L537.0,17.35 L535.8,17.27 L534.5,17.18 L533.3,17.10 L532.1,17.00 L530.9,16.91 L529.7,16.82 L528.5,16.72 L527.3,16.63 L526.1,16.54 L524.9,16.45 L523.7,16.36 L522.5,16.28 L521.2,16.20 L520.0,16.12 L518.8,16.05 L517.6,15.98 L516.4,15.92 L515.2,15.86 L514.0,15.83Z" fill="#f6ec24"/><ellipse cx="565.1" cy="25.4" rx="15.24" ry="0.53" fill="#f6ec24"/><ellipse cx="372.5" cy="147.0" rx="15.53" ry="0.64" fill="#f6ec24"/><path d="M205.0,224.71 L206.2,224.67 L207.4,224.61 L208.6,224.53 L209.8,224.45 L210.9,224.36 L212.1,224.27 L213.3,224.17 L214.5,224.06 L215.7,223.96 L216.9,223.84 L218.1,223.73 L219.2,223.62 L220.4,223.51 L221.6,223.41 L222.8,223.31 L224.0,223.22 L225.2,223.15 L226.4,223.09 L227.6,223.04 L228.8,222.99 L229.9,222.95 L231.1,222.91 L232.3,222.87 L233.5,222.83 L234.7,222.80 L235.9,222.77 L237.1,222.74 L238.2,222.71 L239.4,222.69 L240.6,222.67 L241.8,222.66 L243.0,222.65 L244.2,222.64 L245.4,222.63 L246.6,222.63 L247.8,222.63 L248.9,222.64 L250.1,222.64 L251.3,222.65 L252.5,222.66 L253.7,222.68 L254.9,222.70 L256.1,222.72 L257.2,222.74 L258.4,222.77 L259.6,222.78 L260.8,222.80 L262.0,222.88 L262.0,222.88 L260.8,223.15 L259.6,223.36 L258.4,223.56 L257.2,223.74 L256.1,223.89 L254.9,224.04 L253.7,224.18 L252.5,224.32 L251.3,224.46 L250.1,224.60 L248.9,224.73 L247.8,224.86 L246.6,224.99 L245.4,225.11 L244.2,225.23 L243.0,225.35 L241.8,225.47 L240.6,225.58 L239.4,225.69 L238.2,225.79 L237.1,225.89 L235.9,225.99 L234.7,226.09 L233.5,226.18 L232.3,226.27 L231.1,226.36 L229.9,226.44 L228.8,226.53 L227.6,226.56 L226.4,226.50 L225.2,226.43 L224.0,226.35 L222.8,226.25 L221.6,226.14 L220.4,226.03 L219.2,225.91 L218.1,225.79 L216.9,225.67 L215.7,225.55 L214.5,225.43 L213.3,225.32 L212.1,225.21 L210.9,225.11 L209.8,225.01 L208.6,224.92 L207.4,224.84 L206.2,224.76 L205.0,224.71Z" fill="#f6ec24"/><ellipse cx="254.4" cy="234.4" rx="16.29" ry="0.53" fill="#f6ec24"/><ellipse cx="231.6" cy="239.2" rx="3.07" ry="0.67" fill="#f6ec24"/><ellipse cx="57.0" cy="355.2" rx="15.82" ry="0.67" fill="#f6ec24"/><path d="M531.0,223.77 L531.9,223.48 L532.8,223.28 L533.8,223.10 L534.7,222.94 L535.6,222.79 L536.5,222.64 L537.4,222.50 L538.3,222.37 L539.2,222.25 L540.2,222.13 L541.1,222.03 L542.0,221.93 L542.9,221.84 L543.8,221.76 L544.8,221.69 L545.7,221.63 L546.6,221.57 L547.5,221.52 L548.4,221.48 L549.3,221.45 L550.2,221.42 L551.2,221.39 L552.1,221.37 L553.0,221.34 L553.9,221.33 L554.8,221.31 L555.8,221.30 L556.7,221.28 L557.6,221.28 L558.5,221.27 L559.4,221.27 L560.3,221.28 L561.2,221.28 L562.2,221.29 L563.1,221.31 L564.0,221.33 L564.9,221.35 L565.8,221.37 L566.8,221.40 L567.7,221.43 L568.6,221.46 L569.5,221.50 L570.4,221.55 L571.3,221.60 L572.2,221.66 L573.2,221.73 L574.1,221.82 L575.0,222.00 L575.0,222.00 L574.1,222.28 L573.2,222.47 L572.2,222.65 L571.3,222.81 L570.4,222.96 L569.5,223.11 L568.6,223.25 L567.7,223.39 L566.8,223.52 L565.8,223.65 L564.9,223.77 L564.0,223.90 L563.1,224.02 L562.2,224.13 L561.2,224.24 L560.3,224.35 L559.4,224.46 L558.5,224.56 L557.6,224.66 L556.7,224.75 L555.8,224.84 L554.8,224.93 L553.9,225.02 L553.0,225.10 L552.1,225.18 L551.2,225.26 L550.2,225.33 L549.3,225.40 L548.4,225.47 L547.5,225.50 L546.6,225.47 L545.7,225.45 L544.8,225.41 L543.8,225.37 L542.9,225.32 L542.0,225.26 L541.1,225.19 L540.2,225.12 L539.2,225.03 L538.3,224.94 L537.4,224.84 L536.5,224.73 L535.6,224.61 L534.7,224.49 L533.8,224.35 L532.8,224.20 L531.9,224.03 L531.0,223.77Z" fill="#f6ec24"/><ellipse cx="569.4" cy="233.4" rx="13.41" ry="0.48" fill="#f6ec24"/><path d="M375.4,356.9 C375.5,356.7 378.2,356.3 379.7,356.0 C381.3,355.8 382.7,355.6 384.7,355.5 C386.7,355.5 389.4,355.7 391.6,355.8 C393.8,355.8 397.8,355.9 397.9,356.1 C398.0,356.4 394.5,356.9 392.3,357.2 C390.0,357.6 386.9,358.1 384.7,358.1 C382.5,358.2 380.6,357.9 379.1,357.8 C377.5,357.6 375.3,357.2 375.4,356.9Z" fill="#f6ec24"/><path d="M209.0,14.67 L209.9,14.65 L210.8,14.61 L211.7,14.57 L212.6,14.53 L213.5,14.48 L214.4,14.43 L215.3,14.37 L216.2,14.31 L217.1,14.25 L218.0,14.19 L218.9,14.13 L219.8,14.07 L220.6,14.00 L221.5,13.93 L222.4,13.87 L223.3,13.80 L224.2,13.74 L225.1,13.67 L226.0,13.61 L226.9,13.56 L227.8,13.50 L228.7,13.46 L229.6,13.42 L230.5,13.38 L231.4,13.35 L232.3,13.32 L233.2,13.27 L234.1,13.23 L235.0,13.19 L235.9,13.15 L236.8,13.12 L237.7,13.09 L238.6,13.07 L239.5,13.04 L240.4,13.03 L241.2,13.02 L242.1,13.01 L243.0,13.00 L243.9,13.00 L244.8,13.00 L245.7,13.01 L246.6,13.02 L247.5,13.03 L248.4,13.05 L249.3,13.08 L250.2,13.11 L251.1,13.15 L252.0,13.25 L252.0,13.25 L251.1,13.48 L250.2,13.65 L249.3,13.82 L248.4,13.97 L247.5,14.12 L246.6,14.26 L245.7,14.40 L244.8,14.54 L243.9,14.67 L243.0,14.80 L242.1,14.92 L241.2,15.04 L240.4,15.16 L239.5,15.28 L238.6,15.38 L237.7,15.49 L236.8,15.59 L235.9,15.69 L235.0,15.78 L234.1,15.87 L233.2,15.96 L232.3,16.04 L231.4,16.05 L230.5,16.02 L229.6,15.98 L228.7,15.93 L227.8,15.88 L226.9,15.83 L226.0,15.77 L225.1,15.71 L224.2,15.64 L223.3,15.58 L222.4,15.51 L221.5,15.44 L220.6,15.37 L219.8,15.30 L218.9,15.24 L218.0,15.17 L217.1,15.11 L216.2,15.05 L215.3,14.99 L214.4,14.93 L213.5,14.87 L212.6,14.82 L211.7,14.78 L210.8,14.73 L209.9,14.70 L209.0,14.67Z" fill="#ff8a00"/><ellipse cx="70.5" cy="146.5" rx="6.50" ry="0.80" fill="#ff8a00"/><path d="M525.0,15.89 L525.8,15.87 L526.6,15.84 L527.4,15.79 L528.2,15.75 L529.0,15.70 L529.8,15.64 L530.5,15.59 L531.3,15.53 L532.1,15.47 L532.9,15.41 L533.7,15.34 L534.5,15.27 L535.3,15.21 L536.1,15.14 L536.9,15.08 L537.7,15.01 L538.5,14.95 L539.2,14.90 L540.0,14.85 L540.8,14.81 L541.6,14.77 L542.4,14.74 L543.2,14.71 L544.0,14.68 L544.8,14.65 L545.6,14.62 L546.4,14.59 L547.2,14.57 L548.0,14.54 L548.8,14.52 L549.5,14.51 L550.3,14.49 L551.1,14.48 L551.9,14.48 L552.7,14.47 L553.5,14.47 L554.3,14.47 L555.1,14.48 L555.9,14.48 L556.7,14.49 L557.5,14.50 L558.2,14.52 L559.0,14.54 L559.8,14.56 L560.6,14.58 L561.4,14.62 L562.2,14.66 L563.0,14.75 L563.0,14.75 L562.2,14.94 L561.4,15.08 L560.6,15.21 L559.8,15.34 L559.0,15.46 L558.2,15.58 L557.5,15.69 L556.7,15.80 L555.9,15.91 L555.1,16.01 L554.3,16.12 L553.5,16.22 L552.7,16.31 L551.9,16.41 L551.1,16.50 L550.3,16.59 L549.5,16.67 L548.8,16.76 L548.0,16.84 L547.2,16.91 L546.4,16.99 L545.6,17.06 L544.8,17.13 L544.0,17.19 L543.2,17.26 L542.4,17.25 L541.6,17.21 L540.8,17.17 L540.0,17.11 L539.2,17.06 L538.5,16.99 L537.7,16.92 L536.9,16.85 L536.1,16.77 L535.3,16.70 L534.5,16.62 L533.7,16.55 L532.9,16.47 L532.1,16.40 L531.3,16.33 L530.5,16.26 L529.8,16.20 L529.0,16.13 L528.2,16.07 L527.4,16.02 L526.6,15.97 L525.8,15.92 L525.0,15.89Z" fill="#ff8a00"/><path d="M212.0,224.74 L212.8,224.71 L213.5,224.67 L214.3,224.61 L215.1,224.56 L215.9,224.49 L216.6,224.43 L217.4,224.35 L218.2,224.28 L218.9,224.20 L219.7,224.13 L220.5,224.05 L221.2,223.96 L222.0,223.88 L222.8,223.81 L223.6,223.73 L224.3,223.66 L225.1,223.60 L225.9,223.54 L226.6,223.50 L227.4,223.46 L228.2,223.43 L229.0,223.40 L229.7,223.38 L230.5,223.35 L231.3,223.33 L232.0,223.32 L232.8,223.30 L233.6,223.29 L234.4,223.28 L235.1,223.27 L235.9,223.27 L236.7,223.27 L237.4,223.27 L238.2,223.27 L239.0,223.28 L239.8,223.29 L240.5,223.30 L241.3,223.31 L242.1,223.33 L242.8,223.35 L243.6,223.37 L244.4,223.39 L245.1,223.42 L245.9,223.45 L246.7,223.48 L247.5,223.53 L248.2,223.58 L249.0,223.68 L249.0,223.68 L248.2,223.86 L247.5,224.00 L246.7,224.12 L245.9,224.24 L245.1,224.35 L244.4,224.46 L243.6,224.57 L242.8,224.67 L242.1,224.77 L241.3,224.87 L240.5,224.97 L239.8,225.06 L239.0,225.15 L238.2,225.24 L237.4,225.33 L236.7,225.41 L235.9,225.49 L235.1,225.57 L234.4,225.64 L233.6,225.72 L232.8,225.79 L232.0,225.85 L231.3,225.92 L230.5,225.98 L229.7,226.04 L229.0,226.10 L228.2,226.15 L227.4,226.14 L226.6,226.09 L225.9,226.04 L225.1,225.98 L224.3,225.91 L223.6,225.84 L222.8,225.75 L222.0,225.67 L221.2,225.58 L220.5,225.50 L219.7,225.41 L218.9,225.33 L218.2,225.25 L217.4,225.17 L216.6,225.09 L215.9,225.02 L215.1,224.95 L214.3,224.88 L213.5,224.83 L212.8,224.77 L212.0,224.74Z" fill="#ff8a00"/><ellipse cx="231.6" cy="239.2" rx="2.52" ry="0.42" fill="#ff8a00"/><ellipse cx="62.0" cy="355.5" rx="5.50" ry="0.80" fill="#ff8a00"/><path d="M533.5,223.73 L534.2,223.52 L535.0,223.37 L535.7,223.23 L536.5,223.11 L537.2,223.00 L537.9,222.89 L538.7,222.78 L539.4,222.68 L540.2,222.59 L540.9,222.50 L541.6,222.42 L542.4,222.34 L543.1,222.27 L543.9,222.21 L544.6,222.15 L545.3,222.10 L546.1,222.05 L546.8,222.01 L547.6,221.97 L548.3,221.94 L549.0,221.91 L549.8,221.89 L550.5,221.87 L551.2,221.85 L552.0,221.83 L552.7,221.82 L553.5,221.80 L554.2,221.79 L554.9,221.78 L555.7,221.78 L556.4,221.78 L557.2,221.78 L557.9,221.78 L558.6,221.79 L559.4,221.80 L560.1,221.81 L560.9,221.82 L561.6,221.84 L562.3,221.86 L563.1,221.89 L563.8,221.91 L564.6,221.94 L565.3,221.98 L566.0,222.02 L566.8,222.06 L567.5,222.12 L568.3,222.19 L569.0,222.33 L569.0,222.33 L568.3,222.56 L567.5,222.71 L566.8,222.85 L566.0,222.98 L565.3,223.10 L564.6,223.22 L563.8,223.33 L563.1,223.44 L562.3,223.54 L561.6,223.65 L560.9,223.75 L560.1,223.84 L559.4,223.94 L558.6,224.03 L557.9,224.12 L557.2,224.20 L556.4,224.29 L555.7,224.37 L554.9,224.44 L554.2,224.52 L553.5,224.59 L552.7,224.66 L552.0,224.73 L551.2,224.79 L550.5,224.85 L549.8,224.91 L549.0,224.97 L548.3,225.03 L547.6,225.04 L546.8,225.03 L546.1,225.01 L545.3,224.99 L544.6,224.96 L543.9,224.92 L543.1,224.88 L542.4,224.84 L541.6,224.78 L540.9,224.73 L540.2,224.66 L539.4,224.59 L538.7,224.52 L537.9,224.44 L537.2,224.35 L536.5,224.26 L535.7,224.16 L535.0,224.05 L534.2,223.92 L533.5,223.73Z" fill="#ff8a00"/><path d="M381.4,356.9 C381.4,356.8 382.4,356.7 383.0,356.6 C383.6,356.5 384.1,356.4 384.9,356.4 C385.6,356.3 386.7,356.4 387.5,356.4 C388.3,356.5 389.9,356.5 389.9,356.6 C389.9,356.7 388.6,356.9 387.8,357.0 C386.9,357.2 385.7,357.4 384.9,357.4 C384.0,357.4 383.3,357.3 382.8,357.2 C382.2,357.2 381.3,357.0 381.4,356.9Z" fill="#ff8a00"/><path d="M219.0,14.68 L219.5,14.67 L220.1,14.64 L220.6,14.61 L221.2,14.57 L221.7,14.53 L222.2,14.50 L222.8,14.45 L223.3,14.41 L223.9,14.36 L224.4,14.32 L225.0,14.27 L225.5,14.22 L226.0,14.17 L226.6,14.12 L227.1,14.07 L227.7,14.02 L228.2,13.97 L228.8,13.93 L229.3,13.89 L229.8,13.85 L230.4,13.82 L230.9,13.79 L231.5,13.76 L232.0,13.74 L232.5,13.72 L233.1,13.69 L233.6,13.67 L234.2,13.64 L234.7,13.62 L235.2,13.61 L235.8,13.59 L236.3,13.58 L236.9,13.57 L237.4,13.56 L238.0,13.55 L238.5,13.55 L239.0,13.55 L239.6,13.55 L240.1,13.56 L240.7,13.56 L241.2,13.57 L241.8,13.58 L242.3,13.60 L242.8,13.61 L243.4,13.63 L243.9,13.66 L244.5,13.69 L245.0,13.76 L245.0,13.76 L244.5,13.91 L243.9,14.02 L243.4,14.12 L242.8,14.22 L242.3,14.31 L241.8,14.41 L241.2,14.49 L240.7,14.58 L240.1,14.67 L239.6,14.75 L239.0,14.83 L238.5,14.91 L238.0,14.98 L237.4,15.06 L236.9,15.13 L236.3,15.19 L235.8,15.26 L235.2,15.32 L234.7,15.38 L234.2,15.44 L233.6,15.50 L233.1,15.55 L232.5,15.61 L232.0,15.66 L231.5,15.64 L230.9,15.61 L230.4,15.58 L229.8,15.54 L229.3,15.50 L228.8,15.46 L228.2,15.42 L227.7,15.37 L227.1,15.32 L226.6,15.27 L226.0,15.21 L225.5,15.16 L225.0,15.11 L224.4,15.06 L223.9,15.02 L223.3,14.97 L222.8,14.92 L222.2,14.88 L221.7,14.84 L221.2,14.80 L220.6,14.76 L220.1,14.73 L219.5,14.70 L219.0,14.68Z" fill="#ff1e00"/><path d="M533.0,15.94 L533.4,15.92 L533.9,15.90 L534.3,15.87 L534.8,15.84 L535.2,15.80 L535.7,15.76 L536.1,15.72 L536.6,15.68 L537.0,15.64 L537.5,15.60 L537.9,15.55 L538.4,15.50 L538.8,15.46 L539.3,15.41 L539.7,15.37 L540.2,15.32 L540.6,15.28 L541.1,15.24 L541.5,15.21 L542.0,15.18 L542.4,15.16 L542.9,15.14 L543.3,15.12 L543.8,15.10 L544.2,15.09 L544.6,15.07 L545.1,15.06 L545.5,15.05 L546.0,15.04 L546.4,15.03 L546.9,15.03 L547.3,15.03 L547.8,15.02 L548.2,15.02 L548.7,15.03 L549.1,15.03 L549.6,15.04 L550.0,15.05 L550.5,15.06 L550.9,15.07 L551.4,15.08 L551.8,15.09 L552.3,15.11 L552.7,15.13 L553.2,15.15 L553.6,15.18 L554.1,15.22 L554.5,15.28 L554.5,15.28 L554.1,15.40 L553.6,15.49 L553.2,15.58 L552.7,15.65 L552.3,15.73 L551.8,15.80 L551.4,15.87 L550.9,15.94 L550.5,16.01 L550.0,16.08 L549.6,16.14 L549.1,16.20 L548.7,16.26 L548.2,16.32 L547.8,16.38 L547.3,16.43 L546.9,16.49 L546.4,16.54 L546.0,16.58 L545.5,16.63 L545.1,16.68 L544.6,16.72 L544.2,16.76 L543.8,16.80 L543.3,16.84 L542.9,16.86 L542.4,16.83 L542.0,16.80 L541.5,16.77 L541.1,16.73 L540.6,16.69 L540.2,16.64 L539.7,16.59 L539.3,16.54 L538.8,16.49 L538.4,16.44 L537.9,16.39 L537.5,16.34 L537.0,16.29 L536.6,16.24 L536.1,16.19 L535.7,16.15 L535.2,16.10 L534.8,16.06 L534.3,16.03 L533.9,15.99 L533.4,15.96 L533.0,15.94Z" fill="#ff1e00"/><path d="M218.5,224.76 L218.9,224.75 L219.3,224.72 L219.8,224.69 L220.2,224.65 L220.6,224.61 L221.0,224.57 L221.4,224.52 L221.8,224.48 L222.2,224.43 L222.7,224.38 L223.1,224.33 L223.5,224.28 L223.9,224.23 L224.3,224.18 L224.8,224.12 L225.2,224.08 L225.6,224.03 L226.0,223.99 L226.4,223.95 L226.8,223.91 L227.2,223.88 L227.7,223.86 L228.1,223.84 L228.5,223.83 L228.9,223.82 L229.3,223.81 L229.8,223.81 L230.2,223.80 L230.6,223.80 L231.0,223.80 L231.4,223.80 L231.8,223.81 L232.2,223.82 L232.7,223.83 L233.1,223.84 L233.5,223.85 L233.9,223.87 L234.3,223.88 L234.8,223.90 L235.2,223.93 L235.6,223.95 L236.0,223.98 L236.4,224.00 L236.8,224.04 L237.2,224.07 L237.7,224.11 L238.1,224.16 L238.5,224.24 L238.5,224.24 L238.1,224.37 L237.7,224.46 L237.2,224.54 L236.8,224.62 L236.4,224.70 L236.0,224.77 L235.6,224.84 L235.2,224.91 L234.8,224.98 L234.3,225.04 L233.9,225.10 L233.5,225.16 L233.1,225.22 L232.7,225.28 L232.2,225.33 L231.8,225.38 L231.4,225.43 L231.0,225.48 L230.6,225.52 L230.2,225.57 L229.8,225.61 L229.3,225.64 L228.9,225.68 L228.5,225.72 L228.1,225.75 L227.7,225.74 L227.2,225.71 L226.8,225.68 L226.4,225.64 L226.0,225.60 L225.6,225.55 L225.2,225.50 L224.8,225.45 L224.3,225.40 L223.9,225.34 L223.5,225.29 L223.1,225.23 L222.7,225.18 L222.2,225.13 L221.8,225.08 L221.4,225.03 L221.0,224.98 L220.6,224.93 L220.2,224.89 L219.8,224.85 L219.3,224.82 L218.9,224.79 L218.5,224.76Z" fill="#ff1e00"/><path d="M536.5,223.68 L537.1,223.54 L537.6,223.44 L538.2,223.35 L538.7,223.26 L539.3,223.18 L539.8,223.11 L540.4,223.04 L540.9,222.97 L541.5,222.90 L542.0,222.84 L542.6,222.78 L543.1,222.73 L543.7,222.68 L544.2,222.63 L544.8,222.59 L545.3,222.55 L545.9,222.51 L546.4,222.48 L547.0,222.45 L547.5,222.43 L548.1,222.40 L548.6,222.38 L549.2,222.37 L549.8,222.35 L550.3,222.33 L550.9,222.32 L551.4,222.31 L552.0,222.30 L552.5,222.29 L553.1,222.28 L553.6,222.28 L554.2,222.28 L554.7,222.28 L555.3,222.28 L555.8,222.29 L556.4,222.30 L556.9,222.31 L557.5,222.32 L558.0,222.33 L558.6,222.35 L559.1,222.37 L559.7,222.39 L560.2,222.41 L560.8,222.44 L561.3,222.47 L561.9,222.51 L562.4,222.57 L563.0,222.67 L563.0,222.67 L562.4,222.83 L561.9,222.94 L561.3,223.04 L560.8,223.14 L560.2,223.23 L559.7,223.31 L559.1,223.40 L558.6,223.48 L558.0,223.55 L557.5,223.63 L556.9,223.70 L556.4,223.77 L555.8,223.84 L555.3,223.91 L554.7,223.97 L554.2,224.04 L553.6,224.10 L553.1,224.15 L552.5,224.21 L552.0,224.26 L551.4,224.31 L550.9,224.36 L550.3,224.41 L549.8,224.46 L549.2,224.50 L548.6,224.54 L548.1,224.59 L547.5,224.59 L547.0,224.58 L546.4,224.57 L545.9,224.55 L545.3,224.53 L544.8,224.51 L544.2,224.49 L543.7,224.46 L543.1,224.43 L542.6,224.39 L542.0,224.35 L541.5,224.31 L540.9,224.26 L540.4,224.21 L539.8,224.15 L539.3,224.10 L538.7,224.04 L538.2,223.97 L537.6,223.90 L537.1,223.81 L536.5,223.68Z" fill="#ff1e00"/><path d="M46.3,158.3 L53.3,157.9 L53.5,159.2 L46.5,159.5Z" fill="#fff"/><ellipse cx="313.6" cy="15.4" rx="1.6" ry="0.9" fill="url(#g7)"/></g>
<g><line x1="0.0" y1="184.9" x2="282.8" y2="184.9" stroke="#222" stroke-width="1.1"/><line x1="285.0" y1="0.0" x2="285.0" y2="182.5" stroke="#222" stroke-width="1.3"/><line x1="0.7" y1="184.9" x2="0.7" y2="186.7" stroke="#222" stroke-width="0.8"/><line x1="28.3" y1="184.9" x2="28.3" y2="186.7" stroke="#222" stroke-width="0.8"/><line x1="55.9" y1="184.9" x2="55.9" y2="186.7" stroke="#222" stroke-width="0.8"/><line x1="83.5" y1="184.9" x2="83.5" y2="186.7" stroke="#222" stroke-width="0.8"/><line x1="111.1" y1="184.9" x2="111.1" y2="186.7" stroke="#222" stroke-width="0.8"/><line x1="138.7" y1="184.9" x2="138.7" y2="186.7" stroke="#222" stroke-width="0.8"/><line x1="166.3" y1="184.9" x2="166.3" y2="186.7" stroke="#222" stroke-width="0.8"/><line x1="193.9" y1="184.9" x2="193.9" y2="186.7" stroke="#222" stroke-width="0.8"/><line x1="221.5" y1="184.9" x2="221.5" y2="186.7" stroke="#222" stroke-width="0.8"/><line x1="249.1" y1="184.9" x2="249.1" y2="186.7" stroke="#222" stroke-width="0.8"/><line x1="276.7" y1="184.9" x2="276.7" y2="186.7" stroke="#222" stroke-width="0.8"/><line x1="14.5" y1="184.9" x2="14.5" y2="186.0" stroke="#555" stroke-width="0.6"/><line x1="42.1" y1="184.9" x2="42.1" y2="186.0" stroke="#555" stroke-width="0.6"/><line x1="69.7" y1="184.9" x2="69.7" y2="186.0" stroke="#555" stroke-width="0.6"/><line x1="97.3" y1="184.9" x2="97.3" y2="186.0" stroke="#555" stroke-width="0.6"/><line x1="124.9" y1="184.9" x2="124.9" y2="186.0" stroke="#555" stroke-width="0.6"/><line x1="152.5" y1="184.9" x2="152.5" y2="186.0" stroke="#555" stroke-width="0.6"/><line x1="180.1" y1="184.9" x2="180.1" y2="186.0" stroke="#555" stroke-width="0.6"/><line x1="207.7" y1="184.9" x2="207.7" y2="186.0" stroke="#555" stroke-width="0.6"/><line x1="235.3" y1="184.9" x2="235.3" y2="186.0" stroke="#555" stroke-width="0.6"/><line x1="262.9" y1="184.9" x2="262.9" y2="186.0" stroke="#555" stroke-width="0.6"/><line x1="285.0" y1="1.2" x2="287.3" y2="1.2" stroke="#222" stroke-width="0.9"/><line x1="285.0" y1="23.4" x2="287.3" y2="23.4" stroke="#222" stroke-width="0.9"/><line x1="285.0" y1="45.5" x2="287.3" y2="45.5" stroke="#222" stroke-width="0.9"/><line x1="285.0" y1="67.7" x2="287.3" y2="67.7" stroke="#222" stroke-width="0.9"/><line x1="285.0" y1="89.8" x2="287.3" y2="89.8" stroke="#222" stroke-width="0.9"/><line x1="285.0" y1="112.0" x2="287.3" y2="112.0" stroke="#222" stroke-width="0.9"/><line x1="285.0" y1="134.2" x2="287.3" y2="134.2" stroke="#222" stroke-width="0.9"/><line x1="285.0" y1="156.3" x2="287.3" y2="156.3" stroke="#222" stroke-width="0.9"/><line x1="285.0" y1="178.5" x2="287.3" y2="178.5" stroke="#222" stroke-width="0.9"/><line x1="285.0" y1="12.3" x2="286.4" y2="12.3" stroke="#555" stroke-width="0.6"/><line x1="285.0" y1="34.4" x2="286.4" y2="34.4" stroke="#555" stroke-width="0.6"/><line x1="285.0" y1="56.6" x2="286.4" y2="56.6" stroke="#555" stroke-width="0.6"/><line x1="285.0" y1="78.8" x2="286.4" y2="78.8" stroke="#555" stroke-width="0.6"/><line x1="285.0" y1="100.9" x2="286.4" y2="100.9" stroke="#555" stroke-width="0.6"/><line x1="285.0" y1="123.1" x2="286.4" y2="123.1" stroke="#555" stroke-width="0.6"/><line x1="285.0" y1="145.2" x2="286.4" y2="145.2" stroke="#555" stroke-width="0.6"/><line x1="285.0" y1="167.4" x2="286.4" y2="167.4" stroke="#555" stroke-width="0.6"/><line x1="312.0" y1="184.8" x2="594.8" y2="184.8" stroke="#222" stroke-width="1.1"/><line x1="597.4" y1="0.0" x2="597.4" y2="182.4" stroke="#222" stroke-width="1.3"/><line x1="313.4" y1="184.8" x2="313.4" y2="186.6" stroke="#222" stroke-width="0.8"/><line x1="341.0" y1="184.8" x2="341.0" y2="186.6" stroke="#222" stroke-width="0.8"/><line x1="368.6" y1="184.8" x2="368.6" y2="186.6" stroke="#222" stroke-width="0.8"/><line x1="396.2" y1="184.8" x2="396.2" y2="186.6" stroke="#222" stroke-width="0.8"/><line x1="423.8" y1="184.8" x2="423.8" y2="186.6" stroke="#222" stroke-width="0.8"/><line x1="451.3" y1="184.8" x2="451.3" y2="186.6" stroke="#222" stroke-width="0.8"/><line x1="478.9" y1="184.8" x2="478.9" y2="186.6" stroke="#222" stroke-width="0.8"/><line x1="506.5" y1="184.8" x2="506.5" y2="186.6" stroke="#222" stroke-width="0.8"/><line x1="534.1" y1="184.8" x2="534.1" y2="186.6" stroke="#222" stroke-width="0.8"/><line x1="561.7" y1="184.8" x2="561.7" y2="186.6" stroke="#222" stroke-width="0.8"/><line x1="589.3" y1="184.8" x2="589.3" y2="186.6" stroke="#222" stroke-width="0.8"/><line x1="327.2" y1="184.8" x2="327.2" y2="185.9" stroke="#555" stroke-width="0.6"/><line x1="354.8" y1="184.8" x2="354.8" y2="185.9" stroke="#555" stroke-width="0.6"/><line x1="382.4" y1="184.8" x2="382.4" y2="185.9" stroke="#555" stroke-width="0.6"/><line x1="410.0" y1="184.8" x2="410.0" y2="185.9" stroke="#555" stroke-width="0.6"/><line x1="437.6" y1="184.8" x2="437.6" y2="185.9" stroke="#555" stroke-width="0.6"/><line x1="465.1" y1="184.8" x2="465.1" y2="185.9" stroke="#555" stroke-width="0.6"/><line x1="492.7" y1="184.8" x2="492.7" y2="185.9" stroke="#555" stroke-width="0.6"/><line x1="520.3" y1="184.8" x2="520.3" y2="185.9" stroke="#555" stroke-width="0.6"/><line x1="547.9" y1="184.8" x2="547.9" y2="185.9" stroke="#555" stroke-width="0.6"/><line x1="575.5" y1="184.8" x2="575.5" y2="185.9" stroke="#555" stroke-width="0.6"/><line x1="597.4" y1="2.6" x2="599.7" y2="2.6" stroke="#222" stroke-width="0.9"/><line x1="597.4" y1="24.6" x2="599.7" y2="24.6" stroke="#222" stroke-width="0.9"/><line x1="597.4" y1="46.7" x2="599.7" y2="46.7" stroke="#222" stroke-width="0.9"/><line x1="597.4" y1="68.7" x2="599.7" y2="68.7" stroke="#222" stroke-width="0.9"/><line x1="597.4" y1="90.7" x2="599.7" y2="90.7" stroke="#222" stroke-width="0.9"/><line x1="597.4" y1="112.8" x2="599.7" y2="112.8" stroke="#222" stroke-width="0.9"/><line x1="597.4" y1="134.8" x2="599.7" y2="134.8" stroke="#222" stroke-width="0.9"/><line x1="597.4" y1="156.8" x2="599.7" y2="156.8" stroke="#222" stroke-width="0.9"/><line x1="597.4" y1="178.8" x2="599.7" y2="178.8" stroke="#222" stroke-width="0.9"/><line x1="597.4" y1="13.6" x2="598.8" y2="13.6" stroke="#555" stroke-width="0.6"/><line x1="597.4" y1="35.6" x2="598.8" y2="35.6" stroke="#555" stroke-width="0.6"/><line x1="597.4" y1="57.7" x2="598.8" y2="57.7" stroke="#555" stroke-width="0.6"/><line x1="597.4" y1="79.7" x2="598.8" y2="79.7" stroke="#555" stroke-width="0.6"/><line x1="597.4" y1="101.7" x2="598.8" y2="101.7" stroke="#555" stroke-width="0.6"/><line x1="597.4" y1="123.8" x2="598.8" y2="123.8" stroke="#555" stroke-width="0.6"/><line x1="597.4" y1="145.8" x2="598.8" y2="145.8" stroke="#555" stroke-width="0.6"/><line x1="597.4" y1="167.8" x2="598.8" y2="167.8" stroke="#555" stroke-width="0.6"/><line x1="0.0" y1="391.6" x2="282.8" y2="391.6" stroke="#222" stroke-width="1.1"/><line x1="285.0" y1="207.7" x2="285.0" y2="389.2" stroke="#222" stroke-width="1.3"/><line x1="20.6" y1="391.6" x2="20.6" y2="393.4" stroke="#222" stroke-width="0.8"/><line x1="49.1" y1="391.6" x2="49.1" y2="393.4" stroke="#222" stroke-width="0.8"/><line x1="77.7" y1="391.6" x2="77.7" y2="393.4" stroke="#222" stroke-width="0.8"/><line x1="106.2" y1="391.6" x2="106.2" y2="393.4" stroke="#222" stroke-width="0.8"/><line x1="134.8" y1="391.6" x2="134.8" y2="393.4" stroke="#222" stroke-width="0.8"/><line x1="163.3" y1="391.6" x2="163.3" y2="393.4" stroke="#222" stroke-width="0.8"/><line x1="191.8" y1="391.6" x2="191.8" y2="393.4" stroke="#222" stroke-width="0.8"/><line x1="220.4" y1="391.6" x2="220.4" y2="393.4" stroke="#222" stroke-width="0.8"/><line x1="248.9" y1="391.6" x2="248.9" y2="393.4" stroke="#222" stroke-width="0.8"/><line x1="277.5" y1="391.6" x2="277.5" y2="393.4" stroke="#222" stroke-width="0.8"/><line x1="6.3" y1="391.6" x2="6.3" y2="392.7" stroke="#555" stroke-width="0.6"/><line x1="34.8" y1="391.6" x2="34.8" y2="392.7" stroke="#555" stroke-width="0.6"/><line x1="63.4" y1="391.6" x2="63.4" y2="392.7" stroke="#555" stroke-width="0.6"/><line x1="91.9" y1="391.6" x2="91.9" y2="392.7" stroke="#555" stroke-width="0.6"/><line x1="120.5" y1="391.6" x2="120.5" y2="392.7" stroke="#555" stroke-width="0.6"/><line x1="149.0" y1="391.6" x2="149.0" y2="392.7" stroke="#555" stroke-width="0.6"/><line x1="177.6" y1="391.6" x2="177.6" y2="392.7" stroke="#555" stroke-width="0.6"/><line x1="206.1" y1="391.6" x2="206.1" y2="392.7" stroke="#555" stroke-width="0.6"/><line x1="234.7" y1="391.6" x2="234.7" y2="392.7" stroke="#555" stroke-width="0.6"/><line x1="263.2" y1="391.6" x2="263.2" y2="392.7" stroke="#555" stroke-width="0.6"/><line x1="285.0" y1="211.3" x2="287.3" y2="211.3" stroke="#222" stroke-width="0.9"/><line x1="285.0" y1="233.3" x2="287.3" y2="233.3" stroke="#222" stroke-width="0.9"/><line x1="285.0" y1="255.3" x2="287.3" y2="255.3" stroke="#222" stroke-width="0.9"/><line x1="285.0" y1="277.3" x2="287.3" y2="277.3" stroke="#222" stroke-width="0.9"/><line x1="285.0" y1="299.3" x2="287.3" y2="299.3" stroke="#222" stroke-width="0.9"/><line x1="285.0" y1="321.3" x2="287.3" y2="321.3" stroke="#222" stroke-width="0.9"/><line x1="285.0" y1="343.3" x2="287.3" y2="343.3" stroke="#222" stroke-width="0.9"/><line x1="285.0" y1="365.3" x2="287.3" y2="365.3" stroke="#222" stroke-width="0.9"/><line x1="285.0" y1="387.3" x2="287.3" y2="387.3" stroke="#222" stroke-width="0.9"/><line x1="285.0" y1="222.3" x2="286.4" y2="222.3" stroke="#555" stroke-width="0.6"/><line x1="285.0" y1="244.3" x2="286.4" y2="244.3" stroke="#555" stroke-width="0.6"/><line x1="285.0" y1="266.3" x2="286.4" y2="266.3" stroke="#555" stroke-width="0.6"/><line x1="285.0" y1="288.3" x2="286.4" y2="288.3" stroke="#555" stroke-width="0.6"/><line x1="285.0" y1="310.3" x2="286.4" y2="310.3" stroke="#555" stroke-width="0.6"/><line x1="285.0" y1="332.3" x2="286.4" y2="332.3" stroke="#555" stroke-width="0.6"/><line x1="285.0" y1="354.3" x2="286.4" y2="354.3" stroke="#555" stroke-width="0.6"/><line x1="285.0" y1="376.3" x2="286.4" y2="376.3" stroke="#555" stroke-width="0.6"/><line x1="312.0" y1="392.3" x2="594.8" y2="392.3" stroke="#222" stroke-width="1.1"/><line x1="597.4" y1="208.4" x2="597.4" y2="389.9" stroke="#222" stroke-width="1.3"/><line x1="313.9" y1="392.3" x2="313.9" y2="394.1" stroke="#222" stroke-width="0.8"/><line x1="341.6" y1="392.3" x2="341.6" y2="394.1" stroke="#222" stroke-width="0.8"/><line x1="369.4" y1="392.3" x2="369.4" y2="394.1" stroke="#222" stroke-width="0.8"/><line x1="397.1" y1="392.3" x2="397.1" y2="394.1" stroke="#222" stroke-width="0.8"/><line x1="424.9" y1="392.3" x2="424.9" y2="394.1" stroke="#222" stroke-width="0.8"/><line x1="452.6" y1="392.3" x2="452.6" y2="394.1" stroke="#222" stroke-width="0.8"/><line x1="480.4" y1="392.3" x2="480.4" y2="394.1" stroke="#222" stroke-width="0.8"/><line x1="508.1" y1="392.3" x2="508.1" y2="394.1" stroke="#222" stroke-width="0.8"/><line x1="535.9" y1="392.3" x2="535.9" y2="394.1" stroke="#222" stroke-width="0.8"/><line x1="563.6" y1="392.3" x2="563.6" y2="394.1" stroke="#222" stroke-width="0.8"/><line x1="591.4" y1="392.3" x2="591.4" y2="394.1" stroke="#222" stroke-width="0.8"/><line x1="327.8" y1="392.3" x2="327.8" y2="393.4" stroke="#555" stroke-width="0.6"/><line x1="355.5" y1="392.3" x2="355.5" y2="393.4" stroke="#555" stroke-width="0.6"/><line x1="383.3" y1="392.3" x2="383.3" y2="393.4" stroke="#555" stroke-width="0.6"/><line x1="411.0" y1="392.3" x2="411.0" y2="393.4" stroke="#555" stroke-width="0.6"/><line x1="438.8" y1="392.3" x2="438.8" y2="393.4" stroke="#555" stroke-width="0.6"/><line x1="466.5" y1="392.3" x2="466.5" y2="393.4" stroke="#555" stroke-width="0.6"/><line x1="494.3" y1="392.3" x2="494.3" y2="393.4" stroke="#555" stroke-width="0.6"/><line x1="522.0" y1="392.3" x2="522.0" y2="393.4" stroke="#555" stroke-width="0.6"/><line x1="549.8" y1="392.3" x2="549.8" y2="393.4" stroke="#555" stroke-width="0.6"/><line x1="577.5" y1="392.3" x2="577.5" y2="393.4" stroke="#555" stroke-width="0.6"/><line x1="597.4" y1="209.8" x2="599.7" y2="209.8" stroke="#222" stroke-width="0.9"/><line x1="597.4" y1="232.1" x2="599.7" y2="232.1" stroke="#222" stroke-width="0.9"/><line x1="597.4" y1="254.4" x2="599.7" y2="254.4" stroke="#222" stroke-width="0.9"/><line x1="597.4" y1="276.7" x2="599.7" y2="276.7" stroke="#222" stroke-width="0.9"/><line x1="597.4" y1="299.0" x2="599.7" y2="299.0" stroke="#222" stroke-width="0.9"/><line x1="597.4" y1="321.3" x2="599.7" y2="321.3" stroke="#222" stroke-width="0.9"/><line x1="597.4" y1="343.6" x2="599.7" y2="343.6" stroke="#222" stroke-width="0.9"/><line x1="597.4" y1="365.9" x2="599.7" y2="365.9" stroke="#222" stroke-width="0.9"/><line x1="597.4" y1="388.2" x2="599.7" y2="388.2" stroke="#222" stroke-width="0.9"/><line x1="597.4" y1="221.0" x2="598.8" y2="221.0" stroke="#555" stroke-width="0.6"/><line x1="597.4" y1="243.2" x2="598.8" y2="243.2" stroke="#555" stroke-width="0.6"/><line x1="597.4" y1="265.6" x2="598.8" y2="265.6" stroke="#555" stroke-width="0.6"/><line x1="597.4" y1="287.9" x2="598.8" y2="287.9" stroke="#555" stroke-width="0.6"/><line x1="597.4" y1="310.2" x2="598.8" y2="310.2" stroke="#555" stroke-width="0.6"/><line x1="597.4" y1="332.5" x2="598.8" y2="332.5" stroke="#555" stroke-width="0.6"/><line x1="597.4" y1="354.8" x2="598.8" y2="354.8" stroke="#555" stroke-width="0.6"/><line x1="597.4" y1="377.1" x2="598.8" y2="377.1" stroke="#555" stroke-width="0.6"/><rect x="0" y="413.7" width="311.8" height="1.3" fill="#b2b2b2"/><line x1="218.0" y1="48.6" x2="222.9" y2="51.4" stroke="#222" stroke-width="0.7"/><line x1="231.5" y1="48.8" x2="225.2" y2="51.6" stroke="#222" stroke-width="0.7"/><line x1="77.0" y1="148.4" x2="82.7" y2="150.8" stroke="#222" stroke-width="0.8"/><path d="M81.2,149.2 L83.6,151.4 L80.6,151.3Z" fill="#111"/><line x1="526.1" y1="50.0" x2="535.0" y2="54.7" stroke="#222" stroke-width="0.7"/><line x1="546.4" y1="50.9" x2="539.4" y2="54.4" stroke="#222" stroke-width="0.7"/><circle cx="535.2" cy="54.8" r="0.9" fill="#111"/><circle cx="539.3" cy="54.5" r="0.9" fill="#111"/><line x1="384.1" y1="147.7" x2="395.0" y2="152.1" stroke="#222" stroke-width="0.7"/><circle cx="395.3" cy="152.3" r="1.0" fill="#111"/><line x1="212.6" y1="259.6" x2="220.3" y2="264.7" stroke="#222" stroke-width="0.7"/><line x1="232.6" y1="259.6" x2="225.4" y2="264.0" stroke="#222" stroke-width="0.7"/><circle cx="220.5" cy="264.8" r="0.9" fill="#111"/><circle cx="225.2" cy="264.2" r="0.9" fill="#111"/><line x1="66.3" y1="354.8" x2="77.9" y2="359.6" stroke="#222" stroke-width="0.7"/><circle cx="78.2" cy="359.8" r="1.0" fill="#111"/><line x1="529.1" y1="257.9" x2="537.2" y2="262.3" stroke="#222" stroke-width="0.7"/><line x1="549.0" y1="258.2" x2="542.0" y2="262.3" stroke="#222" stroke-width="0.7"/><circle cx="537.4" cy="262.4" r="0.9" fill="#111"/><circle cx="541.8" cy="262.4" r="0.9" fill="#111"/><line x1="387.7" y1="355.8" x2="396.3" y2="360.6" stroke="#222" stroke-width="0.7"/><circle cx="396.6" cy="360.8" r="1.0" fill="#111"/></g>
<g filter="url(#tb)"><text x="0.7" y="196.8" font-size="9.1" text-anchor="middle">8.0</text><text x="28.3" y="196.8" font-size="9.1" text-anchor="middle">7.5</text><text x="55.9" y="196.8" font-size="9.1" text-anchor="middle">7.0</text><text x="83.5" y="196.8" font-size="9.1" text-anchor="middle">6.5</text><text x="111.1" y="196.8" font-size="9.1" text-anchor="middle">6.0</text><text x="138.7" y="196.8" font-size="9.1" text-anchor="middle">5.5</text><text x="166.3" y="196.8" font-size="9.1" text-anchor="middle">5.0</text><text x="193.9" y="196.8" font-size="9.1" text-anchor="middle">4.5</text><text x="221.5" y="196.8" font-size="9.1" text-anchor="middle">4.0</text><text x="249.1" y="196.8" font-size="9.1" text-anchor="middle">3.5</text><text x="276.7" y="196.8" font-size="9.1" text-anchor="middle">3.0</text><text x="287.0" y="4.1" font-size="8.7" text-anchor="start">50</text><text x="287.0" y="26.3" font-size="8.7" text-anchor="start">60</text><text x="287.0" y="48.4" font-size="8.7" text-anchor="start">70</text><text x="287.0" y="70.6" font-size="8.7" text-anchor="start">80</text><text x="287.0" y="92.7" font-size="8.7" text-anchor="start">90</text><text x="287.0" y="114.9" font-size="8.7" text-anchor="start">100</text><text x="287.0" y="137.1" font-size="8.7" text-anchor="start">110</text><text x="287.0" y="159.2" font-size="8.7" text-anchor="start">120</text><text x="287.0" y="181.4" font-size="8.7" text-anchor="start">130</text><text x="313.4" y="196.7" font-size="9.1" text-anchor="middle">8.0</text><text x="341.0" y="196.7" font-size="9.1" text-anchor="middle">7.5</text><text x="368.6" y="196.7" font-size="9.1" text-anchor="middle">7.0</text><text x="396.2" y="196.7" font-size="9.1" text-anchor="middle">6.5</text><text x="423.8" y="196.7" font-size="9.1" text-anchor="middle">6.0</text><text x="451.3" y="196.7" font-size="9.1" text-anchor="middle">5.5</text><text x="478.9" y="196.7" font-size="9.1" text-anchor="middle">5.0</text><text x="506.5" y="196.7" font-size="9.1" text-anchor="middle">4.5</text><text x="534.1" y="196.7" font-size="9.1" text-anchor="middle">4.0</text><text x="561.7" y="196.7" font-size="9.1" text-anchor="middle">3.5</text><text x="589.3" y="196.7" font-size="9.1" text-anchor="middle">3.0</text><text x="599.4" y="5.5" font-size="8.7" text-anchor="start">50</text><text x="599.4" y="27.5" font-size="8.7" text-anchor="start">60</text><text x="599.4" y="49.6" font-size="8.7" text-anchor="start">70</text><text x="599.4" y="71.6" font-size="8.7" text-anchor="start">80</text><text x="599.4" y="93.6" font-size="8.7" text-anchor="start">90</text><text x="599.4" y="115.7" font-size="8.7" text-anchor="start">100</text><text x="599.4" y="137.7" font-size="8.7" text-anchor="start">110</text><text x="599.4" y="159.7" font-size="8.7" text-anchor="start">120</text><text x="599.4" y="181.7" font-size="8.7" text-anchor="start">130</text><text x="20.6" y="403.5" font-size="9.1" text-anchor="middle">7.5</text><text x="49.1" y="403.5" font-size="9.1" text-anchor="middle">7.0</text><text x="77.7" y="403.5" font-size="9.1" text-anchor="middle">6.5</text><text x="106.2" y="403.5" font-size="9.1" text-anchor="middle">6.0</text><text x="134.8" y="403.5" font-size="9.1" text-anchor="middle">5.5</text><text x="163.3" y="403.5" font-size="9.1" text-anchor="middle">5.0</text><text x="191.8" y="403.5" font-size="9.1" text-anchor="middle">4.5</text><text x="220.4" y="403.5" font-size="9.1" text-anchor="middle">4.0</text><text x="248.9" y="403.5" font-size="9.1" text-anchor="middle">3.5</text><text x="277.5" y="403.5" font-size="9.1" text-anchor="middle">3.0</text><text x="287.0" y="214.2" font-size="8.7" text-anchor="start">50</text><text x="287.0" y="236.2" font-size="8.7" text-anchor="start">60</text><text x="287.0" y="258.2" font-size="8.7" text-anchor="start">70</text><text x="287.0" y="280.2" font-size="8.7" text-anchor="start">80</text><text x="287.0" y="302.2" font-size="8.7" text-anchor="start">90</text><text x="287.0" y="324.2" font-size="8.7" text-anchor="start">100</text><text x="287.0" y="346.2" font-size="8.7" text-anchor="start">110</text><text x="287.0" y="368.2" font-size="8.7" text-anchor="start">120</text><text x="287.0" y="390.2" font-size="8.7" text-anchor="start">130</text><text x="313.9" y="404.2" font-size="9.1" text-anchor="middle">8.0</text><text x="341.6" y="404.2" font-size="9.1" text-anchor="middle">7.5</text><text x="369.4" y="404.2" font-size="9.1" text-anchor="middle">7.0</text><text x="397.1" y="404.2" font-size="9.1" text-anchor="middle">6.5</text><text x="424.9" y="404.2" font-size="9.1" text-anchor="middle">6.0</text><text x="452.6" y="404.2" font-size="9.1" text-anchor="middle">5.5</text><text x="480.4" y="404.2" font-size="9.1" text-anchor="middle">5.0</text><text x="508.1" y="404.2" font-size="9.1" text-anchor="middle">4.5</text><text x="535.9" y="404.2" font-size="9.1" text-anchor="middle">4.0</text><text x="563.6" y="404.2" font-size="9.1" text-anchor="middle">3.5</text><text x="591.4" y="404.2" font-size="9.1" text-anchor="middle">3.0</text><text x="599.4" y="212.7" font-size="8.7" text-anchor="start">50</text><text x="599.4" y="235.0" font-size="8.7" text-anchor="start">60</text><text x="599.4" y="257.3" font-size="8.7" text-anchor="start">70</text><text x="599.4" y="279.6" font-size="8.7" text-anchor="start">80</text><text x="599.4" y="301.9" font-size="8.7" text-anchor="start">90</text><text x="599.4" y="324.2" font-size="8.7" text-anchor="start">100</text><text x="599.4" y="346.5" font-size="8.7" text-anchor="start">110</text><text x="599.4" y="368.8" font-size="8.7" text-anchor="start">120</text><text x="599.4" y="391.1" font-size="8.7" text-anchor="start">130</text><text x="135.0" y="205.4" font-size="9.6" text-anchor="start">δH</text><text x="447.4" y="205.7" font-size="9.6" text-anchor="start">δH</text><text x="135.0" y="412.1" font-size="9.6" text-anchor="start">δH</text><text x="447.4" y="412.6" font-size="9.6" text-anchor="start">δH</text><text x="309.3" y="90.7" font-size="8.9" text-anchor="middle" transform="rotate(-90 309.3 90.7)">δC</text><text x="621.5" y="91.5" font-size="8.9" text-anchor="middle" transform="rotate(-90 621.5 91.5)">δC</text><text x="309.8" y="298.6" font-size="8.9" text-anchor="middle" transform="rotate(-90 309.8 298.6)">δC</text><text x="621.6" y="298.6" font-size="8.9" text-anchor="middle" transform="rotate(-90 621.6 298.6)">δC</text><text x="11.3" y="17.6" font-size="15" text-anchor="start">AL</text><text x="333.6" y="19.2" font-size="15" text-anchor="start">DI</text><text x="22.6" y="227.4" font-size="15.6" text-anchor="start">ISPI</text><text x="328.0" y="226.4" font-size="15" text-anchor="start">MI</text><text x="226.4" y="11.3" font-size="9.2" text-anchor="start">OMe</text><text x="267.7" y="11.3" font-size="9.2" text-anchor="start">B<tspan dy="1.3" font-size="5.7">β</tspan></text><text x="244.0" y="26.2" font-size="9.2" text-anchor="start">X<tspan dy="1.3" font-size="5.7">4</tspan></text><text x="262.8" y="26.9" font-size="9.2" text-anchor="start">A<tspan dy="1.3" font-size="5.7">γ</tspan></text><text x="222.8" y="32.0" font-size="9.2" text-anchor="start">C<tspan dy="1.3" font-size="5.7">γ</tspan></text><text x="256.4" y="35.3" font-size="9.2" text-anchor="start">X<tspan dy="1.3" font-size="5.7">3</tspan><tspan dy="-1.3">+X</tspan><tspan dy="1.3" font-size="5.7">5</tspan></text><text x="220.4" y="57.9" font-size="9.2" text-anchor="start">B<tspan dy="1.3" font-size="5.7">γ</tspan></text><text x="185.4" y="76.7" font-size="9.2" text-anchor="start">B<tspan dy="1.3" font-size="5.7">α</tspan></text><text x="28.5" y="130.0" font-size="9.2" text-anchor="start">FA<tspan dy="1.3" font-size="5.7">2</tspan></text><text x="15.0" y="139.0" font-size="9.2" text-anchor="start">G′<tspan dy="1.3" font-size="5.7">2</tspan></text><text x="55.8" y="137.5" font-size="9.2" text-anchor="start">G<tspan dy="1.3" font-size="5.7">2</tspan></text><text x="52.0" y="146.7" font-size="9.2" text-anchor="start">G<tspan dy="1.3" font-size="5.7">5e</tspan></text><text x="67.0" y="145.4" font-size="9.2" text-anchor="start">G<tspan dy="1.3" font-size="5.7">5</tspan></text><text x="85.6" y="154.8" font-size="9.2" text-anchor="start">PCE<tspan dy="1.3" font-size="5.7">3,5</tspan></text><text x="64.0" y="160.2" font-size="9.2" text-anchor="start">G<tspan dy="1.3" font-size="5.7">6</tspan></text><text x="18.7" y="162.1" font-size="9.2" text-anchor="start">G′<tspan dy="1.3" font-size="5.7">6</tspan></text><text x="44.6" y="175.2" font-size="9.2" text-anchor="start">H<tspan dy="1.3" font-size="5.7">2,6</tspan></text><text x="67.0" y="172.3" font-size="9.2" text-anchor="start">St<tspan dy="1.3" font-size="5.7">α, β</tspan></text><text x="539.0" y="13.7" font-size="9.2" text-anchor="start">OMe</text><text x="581.3" y="13.8" font-size="9.2" text-anchor="start">B<tspan dy="1.3" font-size="5.7">β</tspan></text><text x="549.2" y="25.0" font-size="9.2" text-anchor="start">X<tspan dy="1.3" font-size="5.7">4</tspan></text><text x="562.3" y="24.1" font-size="9.2" text-anchor="start">A<tspan dy="1.3" font-size="5.7">γ</tspan></text><text x="542.0" y="37.6" font-size="9.2" text-anchor="start">C<tspan dy="1.3" font-size="5.7">γ</tspan></text><text x="563.8" y="38.5" font-size="9.2" text-anchor="start">X<tspan dy="1.3" font-size="5.7">3</tspan><tspan dy="-1.3">+X</tspan><tspan dy="1.3" font-size="5.7">5</tspan></text><text x="535.5" y="62.9" font-size="9.2" text-anchor="start">B<tspan dy="1.3" font-size="5.7">γ</tspan></text><text x="503.2" y="83.1" font-size="9.2" text-anchor="start">B<tspan dy="1.3" font-size="5.7">α</tspan></text><text x="341.2" y="134.6" font-size="9.2" text-anchor="start">FA<tspan dy="1.3" font-size="5.7">2</tspan></text><text x="332.8" y="141.9" font-size="9.2" text-anchor="start">G′<tspan dy="1.3" font-size="5.7">2</tspan></text><text x="364.0" y="137.5" font-size="9.2" text-anchor="start">G<tspan dy="1.3" font-size="5.7">2</tspan></text><text x="365.8" y="147.1" font-size="9.2" text-anchor="start">G<tspan dy="1.3" font-size="5.7">5e</tspan></text><text x="379.3" y="144.8" font-size="9.2" text-anchor="start">G<tspan dy="1.3" font-size="5.7">5</tspan></text><text x="397.2" y="156.0" font-size="9.2" text-anchor="start">PCE<tspan dy="1.3" font-size="5.7">3,5</tspan></text><text x="373.2" y="157.7" font-size="9.2" text-anchor="start">G<tspan dy="1.3" font-size="5.7">6</tspan></text><text x="327.0" y="161.7" font-size="9.2" text-anchor="start">G′<tspan dy="1.3" font-size="5.7">6</tspan></text><text x="225.2" y="223.7" font-size="9.2" text-anchor="start">OMe</text><text x="266.7" y="221.7" font-size="9.2" text-anchor="start">B<tspan dy="1.3" font-size="5.7">β</tspan></text><text x="238.8" y="235.8" font-size="9.2" text-anchor="start">X<tspan dy="1.3" font-size="5.7">4</tspan></text><text x="250.8" y="233.5" font-size="9.2" text-anchor="start">A<tspan dy="1.3" font-size="5.7">γ</tspan></text><text x="226.3" y="247.3" font-size="9.2" text-anchor="start">C<tspan dy="1.3" font-size="5.7">γ</tspan></text><text x="249.2" y="248.3" font-size="9.2" text-anchor="start">X<tspan dy="1.3" font-size="5.7">3</tspan><tspan dy="-1.3">+X</tspan><tspan dy="1.3" font-size="5.7">5</tspan></text><text x="221.0" y="271.9" font-size="9.2" text-anchor="start">B<tspan dy="1.3" font-size="5.7">γ</tspan></text><text x="187.7" y="296.3" font-size="9.2" text-anchor="start">B<tspan dy="1.3" font-size="5.7">α</tspan></text><text x="11.2" y="349.0" font-size="9.2" text-anchor="start">G′<tspan dy="1.3" font-size="5.7">2</tspan></text><text x="24.6" y="346.5" font-size="9.2" text-anchor="start">FA<tspan dy="1.3" font-size="5.7">2</tspan></text><text x="43.3" y="346.5" font-size="9.2" text-anchor="start">G<tspan dy="1.3" font-size="5.7">2</tspan></text><text x="46.7" y="355.2" font-size="9.2" text-anchor="start">G<tspan dy="1.3" font-size="5.7">5e</tspan></text><text x="60.6" y="353.3" font-size="9.2" text-anchor="start">G<tspan dy="1.3" font-size="5.7">5</tspan></text><text x="79.4" y="361.9" font-size="9.2" text-anchor="start">PCE<tspan dy="1.3" font-size="5.7">3,5</tspan></text><text x="55.8" y="365.0" font-size="9.2" text-anchor="start">G<tspan dy="1.3" font-size="5.7">6</tspan></text><text x="10.6" y="370.6" font-size="9.2" text-anchor="start">G′<tspan dy="1.3" font-size="5.7">6</tspan></text><text x="542.5" y="221.5" font-size="9.2" text-anchor="start">OMe</text><text x="580.6" y="223.4" font-size="9.2" text-anchor="start">B<tspan dy="1.3" font-size="5.7">β</tspan></text><text x="555.3" y="235.8" font-size="9.2" text-anchor="start">X<tspan dy="1.3" font-size="5.7">4</tspan></text><text x="567.0" y="231.4" font-size="9.2" text-anchor="start">A<tspan dy="1.3" font-size="5.7">γ</tspan></text><text x="546.8" y="247.0" font-size="9.2" text-anchor="start">C<tspan dy="1.3" font-size="5.7">γ</tspan></text><text x="565.0" y="247.5" font-size="9.2" text-anchor="start">X<tspan dy="1.3" font-size="5.7">3</tspan><tspan dy="-1.3">+X</tspan><tspan dy="1.3" font-size="5.7">5</tspan></text><text x="536.7" y="269.1" font-size="9.2" text-anchor="start">B<tspan dy="1.3" font-size="5.7">γ</tspan></text><text x="505.0" y="294.0" font-size="9.2" text-anchor="start">B<tspan dy="1.3" font-size="5.7">α</tspan></text><text x="371.3" y="349.4" font-size="9.2" text-anchor="start">G<tspan dy="1.3" font-size="5.7">2</tspan></text><text x="384.4" y="355.2" font-size="9.2" text-anchor="start">G<tspan dy="1.3" font-size="5.7">5</tspan></text><text x="398.3" y="365.2" font-size="9.2" text-anchor="start">PCE<tspan dy="1.3" font-size="5.7">3,5</tspan></text><text x="379.6" y="366.3" font-size="9.2" text-anchor="start">G<tspan dy="1.3" font-size="5.7">6</tspan></text></g>
<rect x="301.5" y="187" width="10.2" height="12" fill="#fff"/><rect x="301.5" y="394.5" width="9.8" height="12" fill="#fff"/>
</svg></body></html>
